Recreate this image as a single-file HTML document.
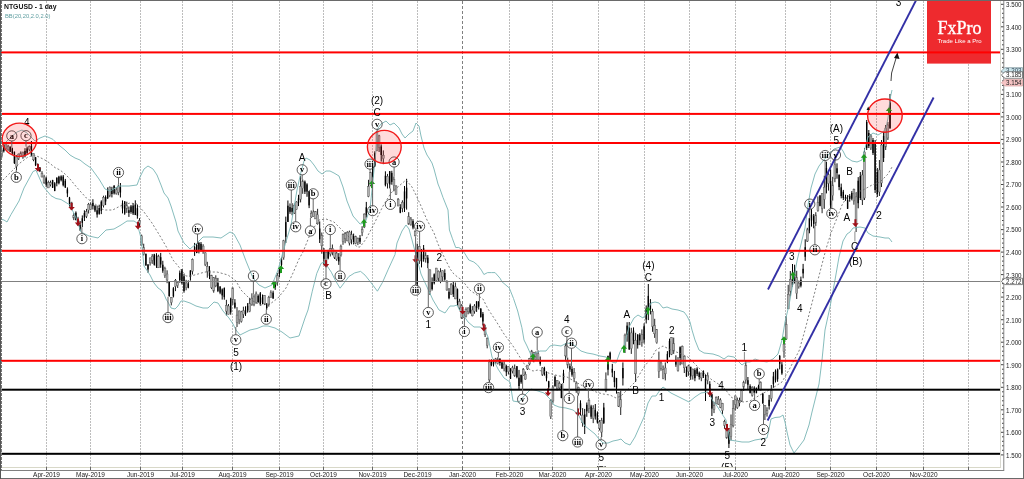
<!DOCTYPE html>
<html><head><meta charset="utf-8"><title>NTGUSD - 1 day</title><style>
html,body{margin:0;padding:0;background:#fff;}
body{width:1024px;height:479px;overflow:hidden;}
svg{display:block;}
text{font-family:"Liberation Sans",Arial,sans-serif;}
.cl{font-family:"Liberation Serif","Times New Roman",serif;font-size:8.5px;font-weight:bold;text-anchor:middle;fill:#000;}
.pl{font-size:10px;text-anchor:middle;fill:#000;}
.ax{font-size:7px;fill:#222;}
.dt{font-size:7px;fill:#222;text-anchor:middle;}
.tt{font-size:7px;font-weight:bold;fill:#111;}
.bb{font-size:5.8px;fill:#5f9ea0;}
.fx{font-family:"Liberation Serif","Times New Roman",serif;font-size:18px;fill:#fff;stroke:#fff;stroke-width:0.35px;text-anchor:middle;}
.fs{font-size:6px;fill:#fff;text-anchor:middle;}
</style></head>
<body><svg width="1024" height="479" viewBox="0 0 1024 479">
<defs><clipPath id="pc"><rect x="1" y="1" width="999" height="466"/></clipPath></defs>
<g clip-path="url(#pc)">
<rect x="0" y="0" width="1024" height="479" fill="#fff"/>
<line x1="46.5" y1="1" x2="46.5" y2="467" stroke="#bdbdbd" stroke-width="1" stroke-dasharray="2,1"/>
<line x1="90.5" y1="1" x2="90.5" y2="467" stroke="#bdbdbd" stroke-width="1" stroke-dasharray="2,1"/>
<line x1="140.5" y1="1" x2="140.5" y2="467" stroke="#bdbdbd" stroke-width="1" stroke-dasharray="2,1"/>
<line x1="182.5" y1="1" x2="182.5" y2="467" stroke="#bdbdbd" stroke-width="1" stroke-dasharray="2,1"/>
<line x1="232.5" y1="1" x2="232.5" y2="467" stroke="#bdbdbd" stroke-width="1" stroke-dasharray="2,1"/>
<line x1="279.5" y1="1" x2="279.5" y2="467" stroke="#bdbdbd" stroke-width="1" stroke-dasharray="2,1"/>
<line x1="323.5" y1="1" x2="323.5" y2="467" stroke="#bdbdbd" stroke-width="1" stroke-dasharray="2,1"/>
<line x1="372.5" y1="1" x2="372.5" y2="467" stroke="#bdbdbd" stroke-width="1" stroke-dasharray="2,1"/>
<line x1="417.5" y1="1" x2="417.5" y2="467" stroke="#bdbdbd" stroke-width="1" stroke-dasharray="2,1"/>
<line x1="462.5" y1="1" x2="462.5" y2="467" stroke="#808080" stroke-width="1" stroke-dasharray="3,2"/>
<line x1="509.5" y1="1" x2="509.5" y2="467" stroke="#bdbdbd" stroke-width="1" stroke-dasharray="2,1"/>
<line x1="552.5" y1="1" x2="552.5" y2="467" stroke="#bdbdbd" stroke-width="1" stroke-dasharray="2,1"/>
<line x1="598.5" y1="1" x2="598.5" y2="467" stroke="#bdbdbd" stroke-width="1" stroke-dasharray="2,1"/>
<line x1="644.5" y1="1" x2="644.5" y2="467" stroke="#bdbdbd" stroke-width="1" stroke-dasharray="2,1"/>
<line x1="689.5" y1="1" x2="689.5" y2="467" stroke="#bdbdbd" stroke-width="1" stroke-dasharray="2,1"/>
<line x1="735.5" y1="1" x2="735.5" y2="467" stroke="#bdbdbd" stroke-width="1" stroke-dasharray="2,1"/>
<line x1="785.5" y1="1" x2="785.5" y2="467" stroke="#bdbdbd" stroke-width="1" stroke-dasharray="2,1"/>
<line x1="830.5" y1="1" x2="830.5" y2="467" stroke="#bdbdbd" stroke-width="1" stroke-dasharray="2,1"/>
<line x1="876.5" y1="1" x2="876.5" y2="467" stroke="#bdbdbd" stroke-width="1" stroke-dasharray="2,1"/>
<line x1="923.5" y1="1" x2="923.5" y2="467" stroke="#bdbdbd" stroke-width="1" stroke-dasharray="2,1"/>
<line x1="968.5" y1="1" x2="968.5" y2="467" stroke="#bdbdbd" stroke-width="1" stroke-dasharray="2,1"/>
<rect x="927" y="0" width="64" height="63.6" fill="#ee2a2e"/>
<rect x="1.2" y="147.9" width="1" height="10" fill="#222"/>
<rect x="0.8" y="150" width="1.9" height="6.4" fill="#b0b0b0" stroke="#555" stroke-width="0.45"/>
<rect x="3.3" y="144.3" width="1" height="8.2" fill="#000"/>
<rect x="3.1" y="144.5" width="1.4" height="6.7" fill="#000"/>
<rect x="5.4" y="143.6" width="1" height="5.9" fill="#222"/>
<rect x="5" y="143.9" width="1.9" height="5.1" fill="#b0b0b0" stroke="#555" stroke-width="0.45"/>
<rect x="7.6" y="144.8" width="1" height="6" fill="#222"/>
<rect x="7.1" y="146.2" width="1.9" height="3.7" fill="#b0b0b0" stroke="#555" stroke-width="0.45"/>
<rect x="9.7" y="146.4" width="1" height="5.6" fill="#000"/>
<rect x="9.5" y="146.7" width="1.4" height="5.1" fill="#000"/>
<rect x="11.8" y="147.7" width="1" height="7.3" fill="#000"/>
<rect x="11.6" y="148.3" width="1.4" height="5.1" fill="#000"/>
<rect x="13.9" y="151.5" width="1" height="12.5" fill="#000"/>
<rect x="13.7" y="151.8" width="1.4" height="11.2" fill="#000"/>
<rect x="16" y="155.2" width="1" height="14.8" fill="#222"/>
<rect x="15.6" y="157" width="1.9" height="9.5" fill="#b0b0b0" stroke="#555" stroke-width="0.45"/>
<rect x="18.2" y="153.5" width="1" height="6.5" fill="#222"/>
<rect x="17.7" y="154.1" width="1.9" height="4.4" fill="#b0b0b0" stroke="#555" stroke-width="0.45"/>
<rect x="20.3" y="151.4" width="1" height="5.5" fill="#222"/>
<rect x="19.8" y="153" width="1.9" height="3.3" fill="#b0b0b0" stroke="#555" stroke-width="0.45"/>
<rect x="22.4" y="151.7" width="1" height="7.1" fill="#222"/>
<rect x="22" y="152.1" width="1.9" height="5.3" fill="#b0b0b0" stroke="#555" stroke-width="0.45"/>
<rect x="24.5" y="148.2" width="1" height="9.1" fill="#000"/>
<rect x="24.3" y="151" width="1.4" height="4.2" fill="#000"/>
<rect x="26.6" y="146.6" width="1" height="7.5" fill="#000"/>
<rect x="26.4" y="148.4" width="1.4" height="4.4" fill="#000"/>
<rect x="28.8" y="145.5" width="1" height="5.8" fill="#222"/>
<rect x="28.3" y="146.5" width="1.9" height="3.1" fill="#b0b0b0" stroke="#555" stroke-width="0.45"/>
<rect x="30.9" y="141" width="1" height="15.4" fill="#000"/>
<rect x="30.7" y="146.1" width="1.4" height="8.6" fill="#000"/>
<rect x="33" y="153.5" width="1" height="7.7" fill="#222"/>
<rect x="32.6" y="153.6" width="1.9" height="6.2" fill="#b0b0b0" stroke="#555" stroke-width="0.45"/>
<rect x="35.1" y="156.9" width="1" height="9.2" fill="#000"/>
<rect x="34.9" y="157.4" width="1.4" height="7.8" fill="#000"/>
<rect x="37.2" y="163.6" width="1" height="7" fill="#000"/>
<rect x="37" y="163.8" width="1.4" height="5.5" fill="#000"/>
<rect x="39.4" y="167" width="1" height="5.1" fill="#000"/>
<rect x="39.2" y="167.5" width="1.4" height="3.7" fill="#000"/>
<rect x="41.5" y="171.2" width="1" height="6.1" fill="#222"/>
<rect x="41" y="173.6" width="1.9" height="3.4" fill="#b0b0b0" stroke="#555" stroke-width="0.45"/>
<rect x="43.6" y="174.8" width="1" height="9" fill="#222"/>
<rect x="43.1" y="176.9" width="1.9" height="5.9" fill="#b0b0b0" stroke="#555" stroke-width="0.45"/>
<rect x="45.7" y="176.7" width="1" height="10.2" fill="#000"/>
<rect x="45.5" y="178.3" width="1.4" height="6.4" fill="#000"/>
<rect x="47.8" y="180.6" width="1" height="7.4" fill="#222"/>
<rect x="47.4" y="182.6" width="1.9" height="5.3" fill="#b0b0b0" stroke="#555" stroke-width="0.45"/>
<rect x="50" y="180.6" width="1" height="5.8" fill="#222"/>
<rect x="49.5" y="182.7" width="1.9" height="1.9" fill="#b0b0b0" stroke="#555" stroke-width="0.45"/>
<rect x="52.1" y="179.8" width="1" height="8.2" fill="#000"/>
<rect x="51.9" y="180" width="1.4" height="7.7" fill="#000"/>
<rect x="54.2" y="182.1" width="1" height="9.1" fill="#000"/>
<rect x="54" y="183.3" width="1.4" height="7.6" fill="#000"/>
<rect x="56.3" y="177.5" width="1" height="8.8" fill="#000"/>
<rect x="56.1" y="177.6" width="1.4" height="5.7" fill="#000"/>
<rect x="58.4" y="175.8" width="1" height="8.6" fill="#000"/>
<rect x="58.2" y="176.7" width="1.4" height="6.5" fill="#000"/>
<rect x="60.6" y="175.3" width="1" height="6.1" fill="#000"/>
<rect x="60.4" y="176.4" width="1.4" height="3.8" fill="#000"/>
<rect x="62.7" y="175" width="1" height="11.4" fill="#000"/>
<rect x="62.5" y="176.5" width="1.4" height="8.7" fill="#000"/>
<rect x="64.8" y="178.9" width="1" height="9.1" fill="#000"/>
<rect x="64.6" y="180.8" width="1.4" height="6.6" fill="#000"/>
<rect x="66.9" y="187.4" width="1" height="9.7" fill="#000"/>
<rect x="66.7" y="189.5" width="1.4" height="3.9" fill="#000"/>
<rect x="69" y="196.9" width="1" height="9.7" fill="#000"/>
<rect x="68.8" y="197.6" width="1.4" height="6" fill="#000"/>
<rect x="71.2" y="201.8" width="1" height="8.1" fill="#222"/>
<rect x="70.7" y="202.8" width="1.9" height="6.3" fill="#b0b0b0" stroke="#555" stroke-width="0.45"/>
<rect x="73.3" y="213.1" width="1" height="7" fill="#222"/>
<rect x="72.8" y="215.4" width="1.9" height="2.6" fill="#b0b0b0" stroke="#555" stroke-width="0.45"/>
<rect x="75.4" y="211.4" width="1" height="8.8" fill="#000"/>
<rect x="75.2" y="212.7" width="1.4" height="7.5" fill="#000"/>
<rect x="77.5" y="216.8" width="1" height="9.1" fill="#222"/>
<rect x="77.1" y="220.3" width="1.9" height="4" fill="#b0b0b0" stroke="#555" stroke-width="0.45"/>
<rect x="79.6" y="221" width="1" height="10" fill="#000"/>
<rect x="79.4" y="224.8" width="1.4" height="4.7" fill="#000"/>
<rect x="81.8" y="215.4" width="1" height="11.6" fill="#000"/>
<rect x="81.6" y="218.3" width="1.4" height="4.5" fill="#000"/>
<rect x="83.9" y="210.3" width="1" height="10.7" fill="#000"/>
<rect x="83.7" y="213.1" width="1.4" height="4.5" fill="#000"/>
<rect x="86" y="208.9" width="1" height="9.2" fill="#222"/>
<rect x="85.6" y="211.6" width="1.9" height="4.7" fill="#b0b0b0" stroke="#555" stroke-width="0.45"/>
<rect x="88.1" y="202.9" width="1" height="10.6" fill="#222"/>
<rect x="87.7" y="204.3" width="1.9" height="5.8" fill="#b0b0b0" stroke="#555" stroke-width="0.45"/>
<rect x="90.2" y="202.4" width="1" height="7.8" fill="#222"/>
<rect x="89.8" y="204.6" width="1.9" height="5" fill="#b0b0b0" stroke="#555" stroke-width="0.45"/>
<rect x="92.4" y="199.2" width="1" height="10.3" fill="#000"/>
<rect x="92.2" y="202.9" width="1.4" height="3.3" fill="#000"/>
<rect x="94.5" y="204.9" width="1" height="7.2" fill="#000"/>
<rect x="94.3" y="205.9" width="1.4" height="4.6" fill="#000"/>
<rect x="96.6" y="205.6" width="1" height="12" fill="#000"/>
<rect x="96.4" y="210.3" width="1.4" height="4.2" fill="#000"/>
<rect x="98.7" y="204.7" width="1" height="10" fill="#000"/>
<rect x="98.5" y="208" width="1.4" height="5.8" fill="#000"/>
<rect x="100.8" y="200.3" width="1" height="13.8" fill="#000"/>
<rect x="100.6" y="201.6" width="1.4" height="9.2" fill="#000"/>
<rect x="103" y="195.7" width="1" height="11.8" fill="#222"/>
<rect x="102.5" y="197.4" width="1.9" height="8" fill="#b0b0b0" stroke="#555" stroke-width="0.45"/>
<rect x="105.1" y="195.4" width="1" height="9.7" fill="#000"/>
<rect x="104.9" y="197" width="1.4" height="4.5" fill="#000"/>
<rect x="107.2" y="187.4" width="1" height="11.6" fill="#000"/>
<rect x="107" y="189.5" width="1.4" height="8.7" fill="#000"/>
<rect x="109.3" y="186.4" width="1" height="10.8" fill="#222"/>
<rect x="108.9" y="187.2" width="1.9" height="8" fill="#b0b0b0" stroke="#555" stroke-width="0.45"/>
<rect x="111.4" y="186.8" width="1" height="10.6" fill="#000"/>
<rect x="111.2" y="189.1" width="1.4" height="4.9" fill="#000"/>
<rect x="113.6" y="185" width="1" height="9.5" fill="#000"/>
<rect x="113.4" y="185.9" width="1.4" height="7.5" fill="#000"/>
<rect x="115.7" y="187.1" width="1" height="7.6" fill="#222"/>
<rect x="115.2" y="189.9" width="1.9" height="3.5" fill="#b0b0b0" stroke="#555" stroke-width="0.45"/>
<rect x="117.8" y="184.4" width="1" height="10.8" fill="#222"/>
<rect x="117.4" y="186.6" width="1.9" height="5.6" fill="#b0b0b0" stroke="#555" stroke-width="0.45"/>
<rect x="119.9" y="183" width="1" height="14.5" fill="#000"/>
<rect x="119.7" y="187.1" width="1.4" height="5.4" fill="#000"/>
<rect x="122" y="200.4" width="1" height="13" fill="#000"/>
<rect x="121.8" y="203.3" width="1.4" height="5.2" fill="#000"/>
<rect x="124.2" y="201.1" width="1" height="13.7" fill="#000"/>
<rect x="124" y="201.5" width="1.4" height="12" fill="#000"/>
<rect x="126.3" y="201.7" width="1" height="11.2" fill="#222"/>
<rect x="125.8" y="205.2" width="1.9" height="3.7" fill="#b0b0b0" stroke="#555" stroke-width="0.45"/>
<rect x="128.4" y="206.5" width="1" height="10.4" fill="#000"/>
<rect x="128.2" y="210.2" width="1.4" height="2.7" fill="#000"/>
<rect x="130.5" y="205" width="1" height="8.7" fill="#000"/>
<rect x="130.3" y="206.4" width="1.4" height="5.6" fill="#000"/>
<rect x="132.6" y="203.2" width="1" height="11.8" fill="#000"/>
<rect x="132.4" y="205.6" width="1.4" height="7.8" fill="#000"/>
<rect x="134.8" y="200.3" width="1" height="14.8" fill="#000"/>
<rect x="134.6" y="204.6" width="1.4" height="10.4" fill="#000"/>
<rect x="136.9" y="204.7" width="1" height="14" fill="#000"/>
<rect x="136.7" y="208.2" width="1.4" height="7.6" fill="#000"/>
<rect x="139" y="218.1" width="1" height="8.4" fill="#222"/>
<rect x="138.6" y="220.7" width="1.9" height="2.5" fill="#b0b0b0" stroke="#555" stroke-width="0.45"/>
<rect x="141.1" y="234.6" width="1" height="11" fill="#222"/>
<rect x="140.7" y="235.8" width="1.9" height="9.2" fill="#b0b0b0" stroke="#555" stroke-width="0.45"/>
<rect x="143.2" y="243.7" width="1" height="11.8" fill="#222"/>
<rect x="142.8" y="247.6" width="1.9" height="6.7" fill="#b0b0b0" stroke="#555" stroke-width="0.45"/>
<rect x="145.4" y="253.5" width="1" height="12.3" fill="#000"/>
<rect x="145.2" y="253.9" width="1.4" height="11.5" fill="#000"/>
<rect x="147.5" y="264.2" width="1" height="8.5" fill="#000"/>
<rect x="147.3" y="264.4" width="1.4" height="5.1" fill="#000"/>
<rect x="149.6" y="257.7" width="1" height="7.9" fill="#222"/>
<rect x="149.2" y="257.9" width="1.9" height="4.9" fill="#b0b0b0" stroke="#555" stroke-width="0.45"/>
<rect x="151.7" y="254.1" width="1" height="9.8" fill="#222"/>
<rect x="151.3" y="256.2" width="1.9" height="4" fill="#b0b0b0" stroke="#555" stroke-width="0.45"/>
<rect x="153.8" y="253.8" width="1" height="11.8" fill="#000"/>
<rect x="153.6" y="254.3" width="1.4" height="10.5" fill="#000"/>
<rect x="156" y="253.2" width="1" height="14.7" fill="#000"/>
<rect x="155.8" y="255" width="1.4" height="11.1" fill="#000"/>
<rect x="158.1" y="254.7" width="1" height="13.3" fill="#222"/>
<rect x="157.6" y="256.5" width="1.9" height="11.3" fill="#b0b0b0" stroke="#555" stroke-width="0.45"/>
<rect x="160.2" y="252.9" width="1" height="14.9" fill="#000"/>
<rect x="160" y="257.2" width="1.4" height="7.3" fill="#000"/>
<rect x="162.3" y="260.8" width="1" height="12" fill="#000"/>
<rect x="162.1" y="264.7" width="1.4" height="6" fill="#000"/>
<rect x="164.4" y="266.7" width="1" height="11.2" fill="#222"/>
<rect x="164" y="268.5" width="1.9" height="7.1" fill="#b0b0b0" stroke="#555" stroke-width="0.45"/>
<rect x="166.6" y="270.3" width="1" height="12.9" fill="#222"/>
<rect x="166.1" y="274" width="1.9" height="6" fill="#b0b0b0" stroke="#555" stroke-width="0.45"/>
<rect x="168.7" y="281.6" width="1" height="15.2" fill="#000"/>
<rect x="168.5" y="281.9" width="1.4" height="14.1" fill="#000"/>
<rect x="170.8" y="297.1" width="1" height="8.3" fill="#222"/>
<rect x="170.4" y="297.4" width="1.9" height="5.2" fill="#b0b0b0" stroke="#555" stroke-width="0.45"/>
<rect x="172.9" y="287.1" width="1" height="10.3" fill="#000"/>
<rect x="172.7" y="288.3" width="1.4" height="8.1" fill="#000"/>
<rect x="175" y="279" width="1" height="12.1" fill="#222"/>
<rect x="174.6" y="280.3" width="1.9" height="6.1" fill="#b0b0b0" stroke="#555" stroke-width="0.45"/>
<rect x="177.2" y="281.8" width="1" height="6.2" fill="#222"/>
<rect x="176.7" y="282.4" width="1.9" height="3.2" fill="#b0b0b0" stroke="#555" stroke-width="0.45"/>
<rect x="179.3" y="270.5" width="1" height="12.2" fill="#000"/>
<rect x="179.1" y="272.8" width="1.4" height="7.4" fill="#000"/>
<rect x="181.4" y="269.3" width="1" height="15.2" fill="#000"/>
<rect x="181.2" y="269.3" width="1.4" height="13.6" fill="#000"/>
<rect x="183.5" y="274" width="1" height="18.7" fill="#000"/>
<rect x="183.3" y="276.3" width="1.4" height="14.7" fill="#000"/>
<rect x="185.6" y="279.8" width="1" height="10.5" fill="#222"/>
<rect x="185.2" y="283" width="1.9" height="4.6" fill="#b0b0b0" stroke="#555" stroke-width="0.45"/>
<rect x="187.8" y="280.4" width="1" height="7.9" fill="#000"/>
<rect x="187.6" y="283.5" width="1.4" height="4.3" fill="#000"/>
<rect x="189.9" y="270.3" width="1" height="10.3" fill="#000"/>
<rect x="189.7" y="270.4" width="1.4" height="6.6" fill="#000"/>
<rect x="192" y="258.5" width="1" height="16" fill="#222"/>
<rect x="191.6" y="259.4" width="1.9" height="11.8" fill="#b0b0b0" stroke="#555" stroke-width="0.45"/>
<rect x="194.1" y="242.9" width="1" height="13" fill="#000"/>
<rect x="193.9" y="247.1" width="1.4" height="4.5" fill="#000"/>
<rect x="196.2" y="244" width="1" height="9.2" fill="#000"/>
<rect x="196" y="244.8" width="1.4" height="8.2" fill="#000"/>
<rect x="198.4" y="242.2" width="1" height="11.2" fill="#000"/>
<rect x="198.2" y="242.7" width="1.4" height="7" fill="#000"/>
<rect x="200.5" y="242" width="1" height="9.3" fill="#000"/>
<rect x="200.3" y="243.8" width="1.4" height="7.4" fill="#000"/>
<rect x="202.6" y="244.2" width="1" height="9.6" fill="#222"/>
<rect x="202.2" y="246.1" width="1.9" height="5.6" fill="#b0b0b0" stroke="#555" stroke-width="0.45"/>
<rect x="204.7" y="252.3" width="1" height="13.8" fill="#222"/>
<rect x="204.3" y="252.8" width="1.9" height="11.9" fill="#b0b0b0" stroke="#555" stroke-width="0.45"/>
<rect x="206.8" y="261.8" width="1" height="15.9" fill="#222"/>
<rect x="206.4" y="266.5" width="1.9" height="5" fill="#b0b0b0" stroke="#555" stroke-width="0.45"/>
<rect x="209" y="266.1" width="1" height="13" fill="#000"/>
<rect x="208.8" y="270.1" width="1.4" height="5.8" fill="#000"/>
<rect x="211.1" y="274.8" width="1" height="14.3" fill="#222"/>
<rect x="210.6" y="275.7" width="1.9" height="12" fill="#b0b0b0" stroke="#555" stroke-width="0.45"/>
<rect x="213.2" y="277.3" width="1" height="15.4" fill="#222"/>
<rect x="212.8" y="277.6" width="1.9" height="13.4" fill="#b0b0b0" stroke="#555" stroke-width="0.45"/>
<rect x="215.3" y="275.3" width="1" height="11.9" fill="#222"/>
<rect x="214.9" y="278.5" width="1.9" height="7.3" fill="#b0b0b0" stroke="#555" stroke-width="0.45"/>
<rect x="217.4" y="277.9" width="1" height="14.2" fill="#000"/>
<rect x="217.2" y="282.9" width="1.4" height="8" fill="#000"/>
<rect x="219.6" y="286.4" width="1" height="7.8" fill="#000"/>
<rect x="219.4" y="286.4" width="1.4" height="6.3" fill="#000"/>
<rect x="221.7" y="288.4" width="1" height="11.2" fill="#000"/>
<rect x="221.5" y="289.4" width="1.4" height="6" fill="#000"/>
<rect x="223.8" y="287.4" width="1" height="12.3" fill="#000"/>
<rect x="223.6" y="288.1" width="1.4" height="9" fill="#000"/>
<rect x="225.9" y="299.8" width="1" height="15.8" fill="#222"/>
<rect x="225.5" y="305.4" width="1.9" height="5.7" fill="#b0b0b0" stroke="#555" stroke-width="0.45"/>
<rect x="228" y="304" width="1" height="10.4" fill="#222"/>
<rect x="227.6" y="306" width="1.9" height="8.2" fill="#b0b0b0" stroke="#555" stroke-width="0.45"/>
<rect x="230.2" y="297.7" width="1" height="17" fill="#000"/>
<rect x="230" y="298.6" width="1.4" height="13.7" fill="#000"/>
<rect x="232.3" y="287.7" width="1" height="17.1" fill="#222"/>
<rect x="231.8" y="287.8" width="1.9" height="12" fill="#b0b0b0" stroke="#555" stroke-width="0.45"/>
<rect x="234.4" y="299.1" width="1" height="9.6" fill="#000"/>
<rect x="234.2" y="302.6" width="1.4" height="5" fill="#000"/>
<rect x="236.5" y="307.1" width="1" height="19.9" fill="#222"/>
<rect x="236.1" y="315.1" width="1.9" height="7.3" fill="#b0b0b0" stroke="#555" stroke-width="0.45"/>
<rect x="238.6" y="310.4" width="1" height="13.8" fill="#222"/>
<rect x="238.2" y="311" width="1.9" height="8.6" fill="#b0b0b0" stroke="#555" stroke-width="0.45"/>
<rect x="240.8" y="310.8" width="1" height="11.8" fill="#222"/>
<rect x="240.3" y="311.9" width="1.9" height="9.4" fill="#b0b0b0" stroke="#555" stroke-width="0.45"/>
<rect x="242.9" y="306.7" width="1" height="11.3" fill="#222"/>
<rect x="242.4" y="310.8" width="1.9" height="3.6" fill="#b0b0b0" stroke="#555" stroke-width="0.45"/>
<rect x="245" y="306.3" width="1" height="9.6" fill="#000"/>
<rect x="244.8" y="309.9" width="1.4" height="3.9" fill="#000"/>
<rect x="247.1" y="303.1" width="1" height="9.5" fill="#000"/>
<rect x="246.9" y="305.9" width="1.4" height="4.2" fill="#000"/>
<rect x="249.2" y="297.8" width="1" height="14.4" fill="#222"/>
<rect x="248.8" y="303.1" width="1.9" height="8.3" fill="#b0b0b0" stroke="#555" stroke-width="0.45"/>
<rect x="251.4" y="293.3" width="1" height="12.5" fill="#222"/>
<rect x="250.9" y="298.2" width="1.9" height="6.3" fill="#b0b0b0" stroke="#555" stroke-width="0.45"/>
<rect x="253.5" y="294.3" width="1" height="11.9" fill="#222"/>
<rect x="253" y="296.9" width="1.9" height="7.3" fill="#b0b0b0" stroke="#555" stroke-width="0.45"/>
<rect x="255.6" y="291.5" width="1" height="12.3" fill="#222"/>
<rect x="255.2" y="293.9" width="1.9" height="8.7" fill="#b0b0b0" stroke="#555" stroke-width="0.45"/>
<rect x="257.7" y="294.5" width="1" height="8.2" fill="#000"/>
<rect x="257.5" y="296" width="1.4" height="6.2" fill="#000"/>
<rect x="259.8" y="292" width="1" height="13.7" fill="#000"/>
<rect x="259.6" y="293.3" width="1.4" height="11" fill="#000"/>
<rect x="262" y="294.5" width="1" height="9.8" fill="#000"/>
<rect x="261.8" y="297.4" width="1.4" height="5.3" fill="#000"/>
<rect x="264.1" y="295.1" width="1" height="9.9" fill="#222"/>
<rect x="263.6" y="295.3" width="1.9" height="8.5" fill="#b0b0b0" stroke="#555" stroke-width="0.45"/>
<rect x="266.2" y="303" width="1" height="6.8" fill="#000"/>
<rect x="266" y="304.3" width="1.4" height="3.7" fill="#000"/>
<rect x="268.3" y="295.8" width="1" height="10.8" fill="#222"/>
<rect x="267.9" y="297.5" width="1.9" height="7.1" fill="#b0b0b0" stroke="#555" stroke-width="0.45"/>
<rect x="270.4" y="290.3" width="1" height="7.1" fill="#222"/>
<rect x="270" y="292.8" width="1.9" height="4.6" fill="#b0b0b0" stroke="#555" stroke-width="0.45"/>
<rect x="272.6" y="290.7" width="1" height="7.9" fill="#000"/>
<rect x="272.4" y="292.6" width="1.4" height="6" fill="#000"/>
<rect x="274.7" y="281.9" width="1" height="8" fill="#000"/>
<rect x="274.5" y="284.5" width="1.4" height="2.6" fill="#000"/>
<rect x="276.8" y="272.9" width="1" height="12.8" fill="#222"/>
<rect x="276.4" y="275.6" width="1.9" height="6.6" fill="#b0b0b0" stroke="#555" stroke-width="0.45"/>
<rect x="278.9" y="267.3" width="1" height="9.8" fill="#000"/>
<rect x="278.7" y="269.8" width="1.4" height="4.3" fill="#000"/>
<rect x="281" y="257.1" width="1" height="12.2" fill="#000"/>
<rect x="280.8" y="258.3" width="1.4" height="6.6" fill="#000"/>
<rect x="283.2" y="239.8" width="1" height="19.9" fill="#222"/>
<rect x="282.7" y="240.8" width="1.9" height="16.9" fill="#b0b0b0" stroke="#555" stroke-width="0.45"/>
<rect x="285.3" y="216.6" width="1" height="26.4" fill="#000"/>
<rect x="285.1" y="222.1" width="1.4" height="14.7" fill="#000"/>
<rect x="287.4" y="200.5" width="1" height="21.5" fill="#000"/>
<rect x="287.2" y="205.7" width="1.4" height="16.2" fill="#000"/>
<rect x="289.5" y="203.4" width="1" height="10.4" fill="#000"/>
<rect x="289.3" y="207.1" width="1.4" height="4.7" fill="#000"/>
<rect x="291.6" y="203.2" width="1" height="12" fill="#000"/>
<rect x="291.4" y="207.9" width="1.4" height="4" fill="#000"/>
<rect x="293.8" y="203.5" width="1" height="10.5" fill="#222"/>
<rect x="293.3" y="205.3" width="1.9" height="7.7" fill="#b0b0b0" stroke="#555" stroke-width="0.45"/>
<rect x="295.9" y="201.2" width="1" height="8.3" fill="#222"/>
<rect x="295.4" y="202" width="1.9" height="7.5" fill="#b0b0b0" stroke="#555" stroke-width="0.45"/>
<rect x="298" y="194.8" width="1" height="11.3" fill="#000"/>
<rect x="297.8" y="198.4" width="1.4" height="4.3" fill="#000"/>
<rect x="300.1" y="176" width="1" height="26.4" fill="#222"/>
<rect x="299.7" y="186.3" width="1.9" height="12.9" fill="#b0b0b0" stroke="#555" stroke-width="0.45"/>
<rect x="302.2" y="179.4" width="1" height="14.4" fill="#222"/>
<rect x="301.8" y="181.1" width="1.9" height="7.2" fill="#b0b0b0" stroke="#555" stroke-width="0.45"/>
<rect x="304.4" y="180.5" width="1" height="13.5" fill="#000"/>
<rect x="304.2" y="181.7" width="1.4" height="10" fill="#000"/>
<rect x="306.5" y="183.2" width="1" height="13.6" fill="#000"/>
<rect x="306.3" y="184.4" width="1.4" height="7.2" fill="#000"/>
<rect x="308.6" y="191" width="1" height="17.1" fill="#000"/>
<rect x="308.4" y="191.4" width="1.4" height="14" fill="#000"/>
<rect x="310.7" y="210.5" width="1" height="7.5" fill="#222"/>
<rect x="310.3" y="213.3" width="1.9" height="3.7" fill="#b0b0b0" stroke="#555" stroke-width="0.45"/>
<rect x="312.8" y="210.1" width="1" height="6.6" fill="#222"/>
<rect x="312.4" y="212" width="1.9" height="4.5" fill="#b0b0b0" stroke="#555" stroke-width="0.45"/>
<rect x="315" y="211.1" width="1" height="7.9" fill="#222"/>
<rect x="314.5" y="211.6" width="1.9" height="7.3" fill="#b0b0b0" stroke="#555" stroke-width="0.45"/>
<rect x="317.1" y="208.8" width="1" height="15.8" fill="#222"/>
<rect x="316.6" y="214.8" width="1.9" height="9" fill="#b0b0b0" stroke="#555" stroke-width="0.45"/>
<rect x="319.2" y="221.4" width="1" height="21.6" fill="#000"/>
<rect x="319" y="228.5" width="1.4" height="10.8" fill="#000"/>
<rect x="321.3" y="232.5" width="1" height="21.2" fill="#222"/>
<rect x="320.9" y="235.6" width="1.9" height="10.2" fill="#b0b0b0" stroke="#555" stroke-width="0.45"/>
<rect x="323.4" y="248" width="1" height="16.3" fill="#000"/>
<rect x="323.2" y="250.6" width="1.4" height="8.3" fill="#000"/>
<rect x="325.6" y="252.1" width="1" height="14.2" fill="#222"/>
<rect x="325.1" y="252.3" width="1.9" height="13.6" fill="#b0b0b0" stroke="#555" stroke-width="0.45"/>
<rect x="327.7" y="249.8" width="1" height="9.5" fill="#000"/>
<rect x="327.5" y="251.1" width="1.4" height="7.2" fill="#000"/>
<rect x="329.8" y="247.8" width="1" height="8.7" fill="#222"/>
<rect x="329.4" y="248.7" width="1.9" height="5.3" fill="#b0b0b0" stroke="#555" stroke-width="0.45"/>
<rect x="331.9" y="244.5" width="1" height="10.8" fill="#222"/>
<rect x="331.5" y="248.5" width="1.9" height="4.1" fill="#b0b0b0" stroke="#555" stroke-width="0.45"/>
<rect x="334" y="249.9" width="1" height="9.1" fill="#222"/>
<rect x="333.6" y="250.7" width="1.9" height="6.5" fill="#b0b0b0" stroke="#555" stroke-width="0.45"/>
<rect x="336.2" y="251.6" width="1" height="9.3" fill="#222"/>
<rect x="335.7" y="253.2" width="1.9" height="5.9" fill="#b0b0b0" stroke="#555" stroke-width="0.45"/>
<rect x="338.3" y="253.1" width="1" height="11.8" fill="#000"/>
<rect x="338.1" y="256.9" width="1.4" height="4.5" fill="#000"/>
<rect x="340.4" y="244.6" width="1" height="12.1" fill="#222"/>
<rect x="340" y="246.2" width="1.9" height="8.8" fill="#b0b0b0" stroke="#555" stroke-width="0.45"/>
<rect x="342.5" y="233.5" width="1" height="11.3" fill="#222"/>
<rect x="342.1" y="234.4" width="1.9" height="7" fill="#b0b0b0" stroke="#555" stroke-width="0.45"/>
<rect x="344.6" y="232" width="1" height="11.2" fill="#222"/>
<rect x="344.2" y="233.5" width="1.9" height="5.3" fill="#b0b0b0" stroke="#555" stroke-width="0.45"/>
<rect x="346.8" y="231.2" width="1" height="10" fill="#222"/>
<rect x="346.3" y="232.3" width="1.9" height="8.6" fill="#b0b0b0" stroke="#555" stroke-width="0.45"/>
<rect x="348.9" y="230.6" width="1" height="14.9" fill="#222"/>
<rect x="348.4" y="232" width="1.9" height="11" fill="#b0b0b0" stroke="#555" stroke-width="0.45"/>
<rect x="351" y="230.7" width="1" height="13.6" fill="#222"/>
<rect x="350.6" y="234.7" width="1.9" height="4.9" fill="#b0b0b0" stroke="#555" stroke-width="0.45"/>
<rect x="353.1" y="233.6" width="1" height="10.8" fill="#000"/>
<rect x="352.9" y="236" width="1.4" height="6.8" fill="#000"/>
<rect x="355.2" y="235.7" width="1" height="8.6" fill="#222"/>
<rect x="354.8" y="236.5" width="1.9" height="6.9" fill="#b0b0b0" stroke="#555" stroke-width="0.45"/>
<rect x="357.4" y="237.5" width="1" height="7.6" fill="#222"/>
<rect x="356.9" y="238.7" width="1.9" height="3.4" fill="#b0b0b0" stroke="#555" stroke-width="0.45"/>
<rect x="359.5" y="235.1" width="1" height="8.9" fill="#000"/>
<rect x="359.3" y="238" width="1.4" height="3.7" fill="#000"/>
<rect x="361.6" y="226.2" width="1" height="9.9" fill="#222"/>
<rect x="361.2" y="229.6" width="1.9" height="3" fill="#b0b0b0" stroke="#555" stroke-width="0.45"/>
<rect x="363.7" y="213.4" width="1" height="14.7" fill="#222"/>
<rect x="363.3" y="214.1" width="1.9" height="12.9" fill="#b0b0b0" stroke="#555" stroke-width="0.45"/>
<rect x="365.8" y="201.9" width="1" height="15.7" fill="#000"/>
<rect x="365.6" y="207.3" width="1.4" height="7.4" fill="#000"/>
<rect x="368" y="179.8" width="1" height="17.4" fill="#222"/>
<rect x="367.5" y="186.4" width="1.9" height="10.1" fill="#b0b0b0" stroke="#555" stroke-width="0.45"/>
<rect x="370.1" y="171.8" width="1" height="14.5" fill="#222"/>
<rect x="369.6" y="172.6" width="1.9" height="12.5" fill="#b0b0b0" stroke="#555" stroke-width="0.45"/>
<rect x="372.2" y="162.7" width="1" height="15.2" fill="#000"/>
<rect x="372" y="166.7" width="1.4" height="10" fill="#000"/>
<rect x="374.3" y="151.3" width="1" height="15.7" fill="#000"/>
<rect x="374.1" y="153.2" width="1.4" height="12.4" fill="#000"/>
<rect x="376.4" y="131" width="1" height="20.2" fill="#222"/>
<rect x="376" y="131.5" width="1.9" height="18.9" fill="#b0b0b0" stroke="#555" stroke-width="0.45"/>
<rect x="378.6" y="134.8" width="1" height="17.2" fill="#222"/>
<rect x="378.1" y="135.9" width="1.9" height="11.3" fill="#b0b0b0" stroke="#555" stroke-width="0.45"/>
<rect x="380.7" y="144.4" width="1" height="17.2" fill="#000"/>
<rect x="380.5" y="146.5" width="1.4" height="8.5" fill="#000"/>
<rect x="382.8" y="150.4" width="1" height="13.8" fill="#222"/>
<rect x="382.4" y="155.2" width="1.9" height="3.5" fill="#b0b0b0" stroke="#555" stroke-width="0.45"/>
<rect x="384.9" y="171.3" width="1" height="15.1" fill="#000"/>
<rect x="384.7" y="175.7" width="1.4" height="9.5" fill="#000"/>
<rect x="387" y="173.9" width="1" height="14.6" fill="#222"/>
<rect x="386.6" y="176.3" width="1.9" height="7.1" fill="#b0b0b0" stroke="#555" stroke-width="0.45"/>
<rect x="389.2" y="171.1" width="1" height="17.3" fill="#000"/>
<rect x="389" y="171.2" width="1.4" height="13.3" fill="#000"/>
<rect x="391.3" y="170.8" width="1" height="13.9" fill="#000"/>
<rect x="391.1" y="172.9" width="1.4" height="9" fill="#000"/>
<rect x="393.4" y="176.5" width="1" height="14.8" fill="#222"/>
<rect x="393" y="179.5" width="1.9" height="6.2" fill="#b0b0b0" stroke="#555" stroke-width="0.45"/>
<rect x="395.5" y="185.2" width="1" height="9.5" fill="#222"/>
<rect x="395.1" y="186" width="1.9" height="8.3" fill="#b0b0b0" stroke="#555" stroke-width="0.45"/>
<rect x="397.6" y="198" width="1" height="8.1" fill="#222"/>
<rect x="397.2" y="199.6" width="1.9" height="6.4" fill="#b0b0b0" stroke="#555" stroke-width="0.45"/>
<rect x="399.8" y="204.2" width="1" height="9" fill="#000"/>
<rect x="399.6" y="207.2" width="1.4" height="5.5" fill="#000"/>
<rect x="401.9" y="200.3" width="1" height="11.9" fill="#222"/>
<rect x="401.4" y="202.3" width="1.9" height="6" fill="#b0b0b0" stroke="#555" stroke-width="0.45"/>
<rect x="404" y="186" width="1" height="26" fill="#000"/>
<rect x="403.8" y="191.4" width="1.4" height="16.7" fill="#000"/>
<rect x="406.1" y="178.8" width="1" height="30.8" fill="#000"/>
<rect x="405.9" y="187.7" width="1.4" height="10.8" fill="#000"/>
<rect x="408.2" y="212.2" width="1" height="12.6" fill="#222"/>
<rect x="407.8" y="216.4" width="1.9" height="7.8" fill="#b0b0b0" stroke="#555" stroke-width="0.45"/>
<rect x="410.4" y="217" width="1" height="8.7" fill="#222"/>
<rect x="409.9" y="219.1" width="1.9" height="5.5" fill="#b0b0b0" stroke="#555" stroke-width="0.45"/>
<rect x="412.5" y="219.2" width="1" height="10.1" fill="#000"/>
<rect x="412.3" y="221.1" width="1.4" height="6.5" fill="#000"/>
<rect x="414.6" y="230.2" width="1" height="6.2" fill="#222"/>
<rect x="414.2" y="231.4" width="1.9" height="4.4" fill="#b0b0b0" stroke="#555" stroke-width="0.45"/>
<rect x="416.7" y="243.6" width="1" height="42.4" fill="#000"/>
<rect x="416.5" y="251.7" width="1.4" height="32.5" fill="#000"/>
<rect x="418.8" y="246" width="1" height="17.9" fill="#222"/>
<rect x="418.4" y="246.7" width="1.9" height="14.1" fill="#b0b0b0" stroke="#555" stroke-width="0.45"/>
<rect x="421" y="249.1" width="1" height="18.3" fill="#000"/>
<rect x="420.8" y="254.4" width="1.4" height="7.2" fill="#000"/>
<rect x="423.1" y="245" width="1" height="16.7" fill="#000"/>
<rect x="422.9" y="248.3" width="1.4" height="10.8" fill="#000"/>
<rect x="425.2" y="252.2" width="1" height="10.4" fill="#222"/>
<rect x="424.8" y="255.2" width="1.9" height="4" fill="#b0b0b0" stroke="#555" stroke-width="0.45"/>
<rect x="427.3" y="255" width="1" height="13.2" fill="#000"/>
<rect x="427.1" y="257.6" width="1.4" height="5.6" fill="#000"/>
<rect x="429.4" y="269.3" width="1" height="25.7" fill="#222"/>
<rect x="429" y="269.9" width="1.9" height="21.4" fill="#b0b0b0" stroke="#555" stroke-width="0.45"/>
<rect x="431.6" y="277.4" width="1" height="13.1" fill="#000"/>
<rect x="431.4" y="282.1" width="1.4" height="7" fill="#000"/>
<rect x="433.7" y="273.4" width="1" height="11" fill="#000"/>
<rect x="433.5" y="274.3" width="1.4" height="8.9" fill="#000"/>
<rect x="435.8" y="267.9" width="1" height="13.6" fill="#222"/>
<rect x="435.4" y="268.1" width="1.9" height="12.4" fill="#b0b0b0" stroke="#555" stroke-width="0.45"/>
<rect x="437.9" y="270.5" width="1" height="11" fill="#222"/>
<rect x="437.5" y="271.2" width="1.9" height="6.8" fill="#b0b0b0" stroke="#555" stroke-width="0.45"/>
<rect x="440" y="268.2" width="1" height="15" fill="#222"/>
<rect x="439.6" y="272" width="1.9" height="9" fill="#b0b0b0" stroke="#555" stroke-width="0.45"/>
<rect x="442.2" y="270.3" width="1" height="10.8" fill="#222"/>
<rect x="441.7" y="270.8" width="1.9" height="6" fill="#b0b0b0" stroke="#555" stroke-width="0.45"/>
<rect x="444.3" y="269.3" width="1" height="11.4" fill="#000"/>
<rect x="444.1" y="273" width="1.4" height="6.5" fill="#000"/>
<rect x="446.4" y="280.2" width="1" height="10.5" fill="#222"/>
<rect x="446" y="282.1" width="1.9" height="7.9" fill="#b0b0b0" stroke="#555" stroke-width="0.45"/>
<rect x="448.5" y="288.1" width="1" height="11.2" fill="#000"/>
<rect x="448.3" y="291.8" width="1.4" height="6.4" fill="#000"/>
<rect x="450.6" y="283" width="1" height="11.5" fill="#222"/>
<rect x="450.2" y="284.4" width="1.9" height="10" fill="#b0b0b0" stroke="#555" stroke-width="0.45"/>
<rect x="452.8" y="281.1" width="1" height="15.9" fill="#000"/>
<rect x="452.6" y="285" width="1.4" height="9.3" fill="#000"/>
<rect x="454.9" y="282.5" width="1" height="16.6" fill="#222"/>
<rect x="454.4" y="286.8" width="1.9" height="12.1" fill="#b0b0b0" stroke="#555" stroke-width="0.45"/>
<rect x="457" y="288.5" width="1" height="17.2" fill="#000"/>
<rect x="456.8" y="289.3" width="1.4" height="14" fill="#000"/>
<rect x="459.1" y="298.8" width="1" height="11.3" fill="#222"/>
<rect x="458.7" y="301.6" width="1.9" height="6.3" fill="#b0b0b0" stroke="#555" stroke-width="0.45"/>
<rect x="461.2" y="304.1" width="1" height="14.9" fill="#222"/>
<rect x="460.8" y="305.5" width="1.9" height="12.6" fill="#b0b0b0" stroke="#555" stroke-width="0.45"/>
<rect x="463.4" y="310.8" width="1" height="7.1" fill="#222"/>
<rect x="462.9" y="311.9" width="1.9" height="5.2" fill="#b0b0b0" stroke="#555" stroke-width="0.45"/>
<rect x="465.5" y="307.4" width="1" height="10" fill="#222"/>
<rect x="465" y="309.7" width="1.9" height="6.4" fill="#b0b0b0" stroke="#555" stroke-width="0.45"/>
<rect x="467.6" y="307.3" width="1" height="7" fill="#222"/>
<rect x="467.2" y="308" width="1.9" height="3.8" fill="#b0b0b0" stroke="#555" stroke-width="0.45"/>
<rect x="469.7" y="303.6" width="1" height="10.2" fill="#000"/>
<rect x="469.5" y="305.2" width="1.4" height="7.6" fill="#000"/>
<rect x="471.8" y="306.1" width="1" height="10.3" fill="#222"/>
<rect x="471.4" y="310" width="1.9" height="5.8" fill="#b0b0b0" stroke="#555" stroke-width="0.45"/>
<rect x="474" y="304.1" width="1" height="9.6" fill="#222"/>
<rect x="473.5" y="306" width="1.9" height="5.2" fill="#b0b0b0" stroke="#555" stroke-width="0.45"/>
<rect x="476.1" y="301.2" width="1" height="10.7" fill="#000"/>
<rect x="475.9" y="301.4" width="1.4" height="6.7" fill="#000"/>
<rect x="478.2" y="301.3" width="1" height="8.2" fill="#000"/>
<rect x="478" y="301.3" width="1.4" height="5.4" fill="#000"/>
<rect x="480.3" y="308" width="1" height="9.6" fill="#000"/>
<rect x="480.1" y="308.8" width="1.4" height="8.3" fill="#000"/>
<rect x="482.4" y="312" width="1" height="13.5" fill="#000"/>
<rect x="482.2" y="313.8" width="1.4" height="7.7" fill="#000"/>
<rect x="484.6" y="324.7" width="1" height="12.3" fill="#222"/>
<rect x="484.1" y="327.4" width="1.9" height="7.4" fill="#b0b0b0" stroke="#555" stroke-width="0.45"/>
<rect x="486.7" y="337.4" width="1" height="10.9" fill="#222"/>
<rect x="486.2" y="338.5" width="1.9" height="7" fill="#b0b0b0" stroke="#555" stroke-width="0.45"/>
<rect x="488.8" y="359.6" width="1" height="22.4" fill="#222"/>
<rect x="488.4" y="362" width="1.9" height="17.9" fill="#b0b0b0" stroke="#555" stroke-width="0.45"/>
<rect x="490.9" y="359.3" width="1" height="6.9" fill="#000"/>
<rect x="490.7" y="361.4" width="1.4" height="3.9" fill="#000"/>
<rect x="493" y="359" width="1" height="7.5" fill="#000"/>
<rect x="492.8" y="360.9" width="1.4" height="3.5" fill="#000"/>
<rect x="495.2" y="357.9" width="1" height="5.9" fill="#222"/>
<rect x="494.7" y="359" width="1.9" height="2.8" fill="#b0b0b0" stroke="#555" stroke-width="0.45"/>
<rect x="497.3" y="357.3" width="1" height="7.1" fill="#222"/>
<rect x="496.8" y="358.9" width="1.9" height="4.6" fill="#b0b0b0" stroke="#555" stroke-width="0.45"/>
<rect x="499.4" y="358.4" width="1" height="7.2" fill="#000"/>
<rect x="499.2" y="358.6" width="1.4" height="4.4" fill="#000"/>
<rect x="501.5" y="361.4" width="1" height="7.4" fill="#000"/>
<rect x="501.3" y="362.5" width="1.4" height="6" fill="#000"/>
<rect x="503.6" y="361.4" width="1" height="9.9" fill="#222"/>
<rect x="503.2" y="364.1" width="1.9" height="4.6" fill="#b0b0b0" stroke="#555" stroke-width="0.45"/>
<rect x="505.8" y="364.7" width="1" height="11.4" fill="#000"/>
<rect x="505.6" y="366.3" width="1.4" height="6" fill="#000"/>
<rect x="507.9" y="366.4" width="1" height="8.1" fill="#222"/>
<rect x="507.4" y="366.6" width="1.9" height="5.1" fill="#b0b0b0" stroke="#555" stroke-width="0.45"/>
<rect x="510" y="368.2" width="1" height="10.8" fill="#000"/>
<rect x="509.8" y="368.7" width="1.4" height="10.2" fill="#000"/>
<rect x="512.1" y="365.8" width="1" height="7.6" fill="#222"/>
<rect x="511.7" y="367.8" width="1.9" height="3.2" fill="#b0b0b0" stroke="#555" stroke-width="0.45"/>
<rect x="514.2" y="364.5" width="1" height="12.4" fill="#222"/>
<rect x="513.8" y="368.2" width="1.9" height="7.6" fill="#b0b0b0" stroke="#555" stroke-width="0.45"/>
<rect x="516.4" y="366.1" width="1" height="12.2" fill="#000"/>
<rect x="516.2" y="366.2" width="1.4" height="10.9" fill="#000"/>
<rect x="518.5" y="369.9" width="1" height="20.1" fill="#000"/>
<rect x="518.3" y="377.7" width="1.4" height="8.3" fill="#000"/>
<rect x="520.6" y="374.7" width="1" height="9.1" fill="#000"/>
<rect x="520.4" y="374.8" width="1.4" height="7.5" fill="#000"/>
<rect x="522.7" y="368" width="1" height="8" fill="#222"/>
<rect x="522.3" y="369.7" width="1.9" height="5.6" fill="#b0b0b0" stroke="#555" stroke-width="0.45"/>
<rect x="524.8" y="371.5" width="1" height="8.2" fill="#222"/>
<rect x="524.4" y="374.2" width="1.9" height="4.9" fill="#b0b0b0" stroke="#555" stroke-width="0.45"/>
<rect x="527" y="365" width="1" height="4.9" fill="#222"/>
<rect x="526.5" y="365.1" width="1.9" height="3.9" fill="#b0b0b0" stroke="#555" stroke-width="0.45"/>
<rect x="529.1" y="357.9" width="1" height="7.4" fill="#222"/>
<rect x="528.6" y="358.5" width="1.9" height="5.4" fill="#b0b0b0" stroke="#555" stroke-width="0.45"/>
<rect x="531.2" y="349.9" width="1" height="9.9" fill="#222"/>
<rect x="530.8" y="351" width="1.9" height="7.9" fill="#b0b0b0" stroke="#555" stroke-width="0.45"/>
<rect x="533.3" y="351.9" width="1" height="10.4" fill="#222"/>
<rect x="532.9" y="352.4" width="1.9" height="7.3" fill="#b0b0b0" stroke="#555" stroke-width="0.45"/>
<rect x="535.4" y="351.4" width="1" height="9.4" fill="#222"/>
<rect x="535" y="353.8" width="1.9" height="5.7" fill="#b0b0b0" stroke="#555" stroke-width="0.45"/>
<rect x="537.6" y="350.4" width="1" height="9.7" fill="#222"/>
<rect x="537.1" y="353.8" width="1.9" height="5.9" fill="#b0b0b0" stroke="#555" stroke-width="0.45"/>
<rect x="539.7" y="356.5" width="1" height="9.2" fill="#000"/>
<rect x="539.5" y="359.8" width="1.4" height="4" fill="#000"/>
<rect x="541.8" y="367.1" width="1" height="8.9" fill="#222"/>
<rect x="541.4" y="367.9" width="1.9" height="6.5" fill="#b0b0b0" stroke="#555" stroke-width="0.45"/>
<rect x="543.9" y="366.7" width="1" height="9" fill="#000"/>
<rect x="543.7" y="367.9" width="1.4" height="6.5" fill="#000"/>
<rect x="546" y="371.3" width="1" height="10" fill="#000"/>
<rect x="545.8" y="373.9" width="1.4" height="4.4" fill="#000"/>
<rect x="548.2" y="380.8" width="1" height="8.1" fill="#000"/>
<rect x="548" y="381.2" width="1.4" height="6.2" fill="#000"/>
<rect x="550.3" y="399" width="1" height="20" fill="#222"/>
<rect x="549.8" y="400.5" width="1.9" height="16.1" fill="#b0b0b0" stroke="#555" stroke-width="0.45"/>
<rect x="552.4" y="385.3" width="1" height="18" fill="#222"/>
<rect x="552" y="387.1" width="1.9" height="13.9" fill="#b0b0b0" stroke="#555" stroke-width="0.45"/>
<rect x="554.5" y="375.4" width="1" height="11.5" fill="#000"/>
<rect x="554.3" y="376.9" width="1.4" height="9.1" fill="#000"/>
<rect x="556.6" y="380.1" width="1" height="10.3" fill="#222"/>
<rect x="556.2" y="380.5" width="1.9" height="8.3" fill="#b0b0b0" stroke="#555" stroke-width="0.45"/>
<rect x="558.8" y="381.4" width="1" height="7.8" fill="#222"/>
<rect x="558.3" y="383.7" width="1.9" height="4.2" fill="#b0b0b0" stroke="#555" stroke-width="0.45"/>
<rect x="560.9" y="383.9" width="1" height="14.3" fill="#000"/>
<rect x="560.7" y="386.1" width="1.4" height="11.9" fill="#000"/>
<rect x="563" y="369.8" width="1" height="13.2" fill="#000"/>
<rect x="562.8" y="373.4" width="1.4" height="6.9" fill="#000"/>
<rect x="565.1" y="343" width="1" height="18.3" fill="#222"/>
<rect x="564.7" y="346" width="1.9" height="9.9" fill="#b0b0b0" stroke="#555" stroke-width="0.45"/>
<rect x="567.2" y="357.6" width="1" height="10.7" fill="#222"/>
<rect x="566.8" y="360.1" width="1.9" height="5" fill="#b0b0b0" stroke="#555" stroke-width="0.45"/>
<rect x="569.4" y="363.5" width="1" height="8.4" fill="#000"/>
<rect x="569.2" y="366.1" width="1.4" height="3.4" fill="#000"/>
<rect x="571.5" y="366.3" width="1" height="10.4" fill="#000"/>
<rect x="571.3" y="368.9" width="1.4" height="5.8" fill="#000"/>
<rect x="573.6" y="368" width="1" height="14.2" fill="#222"/>
<rect x="573.2" y="372.5" width="1.9" height="5.7" fill="#b0b0b0" stroke="#555" stroke-width="0.45"/>
<rect x="575.7" y="381.3" width="1" height="11.5" fill="#222"/>
<rect x="575.3" y="383.2" width="1.9" height="7.4" fill="#b0b0b0" stroke="#555" stroke-width="0.45"/>
<rect x="577.8" y="386.7" width="1" height="8.9" fill="#222"/>
<rect x="577.4" y="387.4" width="1.9" height="5.9" fill="#b0b0b0" stroke="#555" stroke-width="0.45"/>
<rect x="580" y="400.3" width="1" height="15.2" fill="#000"/>
<rect x="579.8" y="403.3" width="1.4" height="6.3" fill="#000"/>
<rect x="582.1" y="408.1" width="1" height="18.6" fill="#222"/>
<rect x="581.6" y="415.1" width="1.9" height="7.7" fill="#b0b0b0" stroke="#555" stroke-width="0.45"/>
<rect x="584.2" y="408.9" width="1" height="25.1" fill="#000"/>
<rect x="584" y="414.4" width="1.4" height="12.5" fill="#000"/>
<rect x="586.3" y="402.5" width="1" height="14.3" fill="#000"/>
<rect x="586.1" y="404.8" width="1.4" height="6.5" fill="#000"/>
<rect x="588.4" y="398.3" width="1" height="14.8" fill="#222"/>
<rect x="588" y="400.6" width="1.9" height="7.9" fill="#b0b0b0" stroke="#555" stroke-width="0.45"/>
<rect x="590.6" y="404.8" width="1" height="14.1" fill="#000"/>
<rect x="590.4" y="406.4" width="1.4" height="10.3" fill="#000"/>
<rect x="592.7" y="405.2" width="1" height="17.9" fill="#222"/>
<rect x="592.2" y="408.3" width="1.9" height="9.9" fill="#b0b0b0" stroke="#555" stroke-width="0.45"/>
<rect x="594.8" y="404" width="1" height="15.6" fill="#000"/>
<rect x="594.6" y="409.9" width="1.4" height="6.5" fill="#000"/>
<rect x="596.9" y="411.4" width="1" height="12.2" fill="#000"/>
<rect x="596.7" y="413.3" width="1.4" height="9.2" fill="#000"/>
<rect x="599" y="420" width="1" height="10.5" fill="#222"/>
<rect x="598.6" y="422" width="1.9" height="6.2" fill="#b0b0b0" stroke="#555" stroke-width="0.45"/>
<rect x="601.2" y="417.8" width="1" height="19.2" fill="#222"/>
<rect x="600.7" y="420.5" width="1.9" height="11.6" fill="#b0b0b0" stroke="#555" stroke-width="0.45"/>
<rect x="603.3" y="402.9" width="1" height="21.1" fill="#000"/>
<rect x="603.1" y="407.5" width="1.4" height="15.4" fill="#000"/>
<rect x="605.4" y="372.4" width="1" height="19.8" fill="#222"/>
<rect x="605" y="379.2" width="1.9" height="11" fill="#b0b0b0" stroke="#555" stroke-width="0.45"/>
<rect x="607.5" y="355.8" width="1" height="19.6" fill="#000"/>
<rect x="607.3" y="355.8" width="1.4" height="13.9" fill="#000"/>
<rect x="609.6" y="351.6" width="1" height="8.8" fill="#000"/>
<rect x="609.4" y="352.7" width="1.4" height="6.1" fill="#000"/>
<rect x="611.8" y="363.9" width="1" height="13.3" fill="#000"/>
<rect x="611.6" y="368.8" width="1.4" height="3.8" fill="#000"/>
<rect x="613.9" y="370.9" width="1" height="16.4" fill="#000"/>
<rect x="613.7" y="376.8" width="1.4" height="5.3" fill="#000"/>
<rect x="616" y="377.9" width="1" height="15.7" fill="#000"/>
<rect x="615.8" y="378" width="1.4" height="9.6" fill="#000"/>
<rect x="618.1" y="392.1" width="1" height="14.9" fill="#222"/>
<rect x="617.7" y="392.7" width="1.9" height="13.4" fill="#b0b0b0" stroke="#555" stroke-width="0.45"/>
<rect x="620.2" y="390.8" width="1" height="24.2" fill="#222"/>
<rect x="619.8" y="399.5" width="1.9" height="7.8" fill="#b0b0b0" stroke="#555" stroke-width="0.45"/>
<rect x="622.4" y="362.4" width="1" height="23.1" fill="#000"/>
<rect x="622.2" y="368" width="1.4" height="10.3" fill="#000"/>
<rect x="624.5" y="333.6" width="1" height="19.4" fill="#222"/>
<rect x="624" y="335.1" width="1.9" height="12.5" fill="#b0b0b0" stroke="#555" stroke-width="0.45"/>
<rect x="626.6" y="322.2" width="1" height="19.5" fill="#000"/>
<rect x="626.4" y="325.6" width="1.4" height="9.2" fill="#000"/>
<rect x="628.7" y="322" width="1" height="28" fill="#000"/>
<rect x="628.5" y="327.5" width="1.4" height="21.8" fill="#000"/>
<rect x="630.8" y="327.8" width="1" height="26.1" fill="#222"/>
<rect x="630.4" y="332.9" width="1.9" height="15.8" fill="#b0b0b0" stroke="#555" stroke-width="0.45"/>
<rect x="633" y="327.4" width="1" height="16.9" fill="#000"/>
<rect x="632.8" y="330.5" width="1.4" height="9.9" fill="#000"/>
<rect x="635.1" y="332.8" width="1" height="49.2" fill="#222"/>
<rect x="634.6" y="340.2" width="1.9" height="33.6" fill="#b0b0b0" stroke="#555" stroke-width="0.45"/>
<rect x="637.2" y="334.3" width="1" height="14.3" fill="#000"/>
<rect x="637" y="334.5" width="1.4" height="10.6" fill="#000"/>
<rect x="639.3" y="333.2" width="1" height="11.9" fill="#000"/>
<rect x="639.1" y="334.8" width="1.4" height="5.7" fill="#000"/>
<rect x="641.4" y="329.4" width="1" height="17.3" fill="#222"/>
<rect x="641" y="334.4" width="1.9" height="8" fill="#b0b0b0" stroke="#555" stroke-width="0.45"/>
<rect x="643.6" y="323.3" width="1" height="20.2" fill="#000"/>
<rect x="643.4" y="326.3" width="1.4" height="13.4" fill="#000"/>
<rect x="645.7" y="305.4" width="1" height="18.1" fill="#000"/>
<rect x="645.5" y="308.5" width="1.4" height="11" fill="#000"/>
<rect x="647.8" y="284" width="1" height="36.1" fill="#000"/>
<rect x="647.6" y="295.9" width="1.4" height="18.3" fill="#000"/>
<rect x="649.9" y="299.1" width="1" height="15.3" fill="#000"/>
<rect x="649.7" y="303.1" width="1.4" height="6.4" fill="#000"/>
<rect x="652" y="308.8" width="1" height="23" fill="#222"/>
<rect x="651.6" y="311.6" width="1.9" height="14.8" fill="#b0b0b0" stroke="#555" stroke-width="0.45"/>
<rect x="654.2" y="318.8" width="1" height="19.1" fill="#222"/>
<rect x="653.7" y="325.6" width="1.9" height="8.2" fill="#b0b0b0" stroke="#555" stroke-width="0.45"/>
<rect x="656.3" y="329.4" width="1" height="14.3" fill="#222"/>
<rect x="655.8" y="329.4" width="1.9" height="13.2" fill="#b0b0b0" stroke="#555" stroke-width="0.45"/>
<rect x="658.4" y="351.6" width="1" height="26.4" fill="#222"/>
<rect x="658" y="361.2" width="1.9" height="10.3" fill="#b0b0b0" stroke="#555" stroke-width="0.45"/>
<rect x="660.5" y="360" width="1" height="10.7" fill="#222"/>
<rect x="660.1" y="363" width="1.9" height="5.2" fill="#b0b0b0" stroke="#555" stroke-width="0.45"/>
<rect x="662.6" y="365.5" width="1" height="13.7" fill="#222"/>
<rect x="662.2" y="369.7" width="1.9" height="8.9" fill="#b0b0b0" stroke="#555" stroke-width="0.45"/>
<rect x="664.8" y="362.4" width="1" height="18" fill="#222"/>
<rect x="664.3" y="368" width="1.9" height="5.8" fill="#b0b0b0" stroke="#555" stroke-width="0.45"/>
<rect x="666.9" y="351.1" width="1" height="12.1" fill="#000"/>
<rect x="666.7" y="353.9" width="1.4" height="8.1" fill="#000"/>
<rect x="669" y="338.6" width="1" height="18.7" fill="#000"/>
<rect x="668.8" y="341" width="1.4" height="13.1" fill="#000"/>
<rect x="671.1" y="337" width="1" height="18.1" fill="#222"/>
<rect x="670.7" y="337.3" width="1.9" height="16.9" fill="#b0b0b0" stroke="#555" stroke-width="0.45"/>
<rect x="673.2" y="337.6" width="1" height="16.3" fill="#222"/>
<rect x="672.8" y="343.6" width="1.9" height="7.4" fill="#b0b0b0" stroke="#555" stroke-width="0.45"/>
<rect x="675.4" y="355.3" width="1" height="11.5" fill="#000"/>
<rect x="675.2" y="359.8" width="1.4" height="4.8" fill="#000"/>
<rect x="677.5" y="357.1" width="1" height="14.5" fill="#222"/>
<rect x="677" y="360.8" width="1.9" height="9.5" fill="#b0b0b0" stroke="#555" stroke-width="0.45"/>
<rect x="679.6" y="346.3" width="1" height="19" fill="#000"/>
<rect x="679.4" y="347.2" width="1.4" height="10.8" fill="#000"/>
<rect x="681.7" y="345.5" width="1" height="18.6" fill="#222"/>
<rect x="681.3" y="346.5" width="1.9" height="17.5" fill="#b0b0b0" stroke="#555" stroke-width="0.45"/>
<rect x="683.8" y="356.3" width="1" height="16.7" fill="#222"/>
<rect x="683.4" y="356.6" width="1.9" height="11.2" fill="#b0b0b0" stroke="#555" stroke-width="0.45"/>
<rect x="686" y="366.5" width="1" height="10.3" fill="#000"/>
<rect x="685.8" y="369.6" width="1.4" height="7" fill="#000"/>
<rect x="688.1" y="364.7" width="1" height="11.1" fill="#222"/>
<rect x="687.6" y="365.9" width="1.9" height="5.7" fill="#b0b0b0" stroke="#555" stroke-width="0.45"/>
<rect x="690.2" y="366.8" width="1" height="13" fill="#000"/>
<rect x="690" y="366.8" width="1.4" height="9.6" fill="#000"/>
<rect x="692.3" y="368.5" width="1" height="11.1" fill="#222"/>
<rect x="691.9" y="369.2" width="1.9" height="6.5" fill="#b0b0b0" stroke="#555" stroke-width="0.45"/>
<rect x="694.4" y="368.2" width="1" height="13" fill="#000"/>
<rect x="694.2" y="370.1" width="1.4" height="8.1" fill="#000"/>
<rect x="696.6" y="367.3" width="1" height="8.8" fill="#000"/>
<rect x="696.4" y="368.6" width="1.4" height="5.3" fill="#000"/>
<rect x="698.7" y="371.5" width="1" height="8.1" fill="#000"/>
<rect x="698.5" y="372.7" width="1.4" height="4.3" fill="#000"/>
<rect x="700.8" y="372.8" width="1" height="8.4" fill="#222"/>
<rect x="700.4" y="373" width="1.9" height="4.9" fill="#b0b0b0" stroke="#555" stroke-width="0.45"/>
<rect x="702.9" y="370.3" width="1" height="7.7" fill="#000"/>
<rect x="702.7" y="371.3" width="1.4" height="4.8" fill="#000"/>
<rect x="705" y="374.3" width="1" height="26.7" fill="#000"/>
<rect x="704.8" y="378.9" width="1.4" height="12.6" fill="#000"/>
<rect x="707.2" y="372.4" width="1" height="11.9" fill="#222"/>
<rect x="706.7" y="375.3" width="1.9" height="4.8" fill="#b0b0b0" stroke="#555" stroke-width="0.45"/>
<rect x="709.3" y="381.2" width="1" height="15.8" fill="#000"/>
<rect x="709.1" y="383.9" width="1.4" height="9.4" fill="#000"/>
<rect x="711.4" y="394" width="1" height="22" fill="#000"/>
<rect x="711.2" y="394.3" width="1.4" height="14.3" fill="#000"/>
<rect x="713.5" y="401.8" width="1" height="11.3" fill="#222"/>
<rect x="713.1" y="405.6" width="1.9" height="3.8" fill="#b0b0b0" stroke="#555" stroke-width="0.45"/>
<rect x="715.6" y="396.4" width="1" height="7.8" fill="#222"/>
<rect x="715.2" y="397.4" width="1.9" height="6.5" fill="#b0b0b0" stroke="#555" stroke-width="0.45"/>
<rect x="717.8" y="396" width="1" height="8.9" fill="#222"/>
<rect x="717.3" y="399.3" width="1.9" height="4.8" fill="#b0b0b0" stroke="#555" stroke-width="0.45"/>
<rect x="719.9" y="398.2" width="1" height="10" fill="#222"/>
<rect x="719.4" y="400" width="1.9" height="7.3" fill="#b0b0b0" stroke="#555" stroke-width="0.45"/>
<rect x="722" y="402.9" width="1" height="11.2" fill="#222"/>
<rect x="721.6" y="403.3" width="1.9" height="7.2" fill="#b0b0b0" stroke="#555" stroke-width="0.45"/>
<rect x="724.1" y="419.7" width="1" height="8.8" fill="#222"/>
<rect x="723.7" y="421.7" width="1.9" height="3.6" fill="#b0b0b0" stroke="#555" stroke-width="0.45"/>
<rect x="726.2" y="427.9" width="1" height="10.8" fill="#222"/>
<rect x="725.8" y="428.7" width="1.9" height="9.2" fill="#b0b0b0" stroke="#555" stroke-width="0.45"/>
<rect x="728.4" y="429.1" width="1" height="18.9" fill="#000"/>
<rect x="728.2" y="431.9" width="1.4" height="11.9" fill="#000"/>
<rect x="730.5" y="414.5" width="1" height="25.9" fill="#222"/>
<rect x="730" y="424.8" width="1.9" height="11.7" fill="#b0b0b0" stroke="#555" stroke-width="0.45"/>
<rect x="732.6" y="400" width="1" height="27.4" fill="#222"/>
<rect x="732.2" y="408.7" width="1.9" height="17.1" fill="#b0b0b0" stroke="#555" stroke-width="0.45"/>
<rect x="734.7" y="395.7" width="1" height="14.7" fill="#222"/>
<rect x="734.3" y="395.9" width="1.9" height="8.7" fill="#b0b0b0" stroke="#555" stroke-width="0.45"/>
<rect x="736.8" y="397.6" width="1" height="11.3" fill="#222"/>
<rect x="736.4" y="400.2" width="1.9" height="7.5" fill="#b0b0b0" stroke="#555" stroke-width="0.45"/>
<rect x="739" y="397.6" width="1" height="8.7" fill="#222"/>
<rect x="738.5" y="400.4" width="1.9" height="2.5" fill="#b0b0b0" stroke="#555" stroke-width="0.45"/>
<rect x="741.1" y="389.8" width="1" height="12.1" fill="#222"/>
<rect x="740.6" y="390.7" width="1.9" height="10.2" fill="#b0b0b0" stroke="#555" stroke-width="0.45"/>
<rect x="743.2" y="380.7" width="1" height="10.3" fill="#222"/>
<rect x="742.8" y="382.6" width="1.9" height="4.5" fill="#b0b0b0" stroke="#555" stroke-width="0.45"/>
<rect x="745.3" y="360" width="1" height="23.7" fill="#222"/>
<rect x="744.9" y="365.7" width="1.9" height="14.3" fill="#b0b0b0" stroke="#555" stroke-width="0.45"/>
<rect x="747.4" y="377" width="1" height="12.4" fill="#000"/>
<rect x="747.2" y="380.2" width="1.4" height="4.5" fill="#000"/>
<rect x="749.6" y="384.3" width="1" height="9.1" fill="#000"/>
<rect x="749.4" y="386" width="1.4" height="6.9" fill="#000"/>
<rect x="751.7" y="386.2" width="1" height="10.4" fill="#222"/>
<rect x="751.2" y="387.3" width="1.9" height="7.9" fill="#b0b0b0" stroke="#555" stroke-width="0.45"/>
<rect x="753.8" y="386.3" width="1" height="6.5" fill="#000"/>
<rect x="753.6" y="388.5" width="1.4" height="4.2" fill="#000"/>
<rect x="755.9" y="387.6" width="1" height="5.7" fill="#000"/>
<rect x="755.7" y="387.8" width="1.4" height="5.3" fill="#000"/>
<rect x="758" y="384.6" width="1" height="5.6" fill="#000"/>
<rect x="757.8" y="386.1" width="1.4" height="3.4" fill="#000"/>
<rect x="760.2" y="381.4" width="1" height="9.1" fill="#222"/>
<rect x="759.7" y="382.4" width="1.9" height="7.7" fill="#b0b0b0" stroke="#555" stroke-width="0.45"/>
<rect x="762.3" y="392.8" width="1" height="11.1" fill="#000"/>
<rect x="762.1" y="393.8" width="1.4" height="9.4" fill="#000"/>
<rect x="764.4" y="405.1" width="1" height="14.9" fill="#222"/>
<rect x="764" y="405.3" width="1.9" height="9.2" fill="#b0b0b0" stroke="#555" stroke-width="0.45"/>
<rect x="766.5" y="407.3" width="1" height="9.3" fill="#222"/>
<rect x="766.1" y="410.6" width="1.9" height="2.8" fill="#b0b0b0" stroke="#555" stroke-width="0.45"/>
<rect x="768.6" y="394.9" width="1" height="14.7" fill="#000"/>
<rect x="768.4" y="399.8" width="1.4" height="6.1" fill="#000"/>
<rect x="770.8" y="385" width="1" height="16.6" fill="#222"/>
<rect x="770.3" y="390.5" width="1.9" height="8" fill="#b0b0b0" stroke="#555" stroke-width="0.45"/>
<rect x="772.9" y="371.9" width="1" height="15.9" fill="#000"/>
<rect x="772.7" y="376.4" width="1.4" height="7.8" fill="#000"/>
<rect x="775" y="369.4" width="1" height="13.1" fill="#000"/>
<rect x="774.8" y="370.8" width="1.4" height="9.6" fill="#000"/>
<rect x="777.1" y="368.5" width="1" height="13.3" fill="#000"/>
<rect x="776.9" y="369.4" width="1.4" height="9.8" fill="#000"/>
<rect x="779.2" y="355.1" width="1" height="14.3" fill="#000"/>
<rect x="779" y="355.8" width="1.4" height="8" fill="#000"/>
<rect x="781.4" y="362.1" width="1" height="12.7" fill="#000"/>
<rect x="781.2" y="364.5" width="1.4" height="8.9" fill="#000"/>
<rect x="783.5" y="342.1" width="1" height="15.7" fill="#222"/>
<rect x="783" y="344.3" width="1.9" height="7.2" fill="#b0b0b0" stroke="#555" stroke-width="0.45"/>
<rect x="785.6" y="316.2" width="1" height="23.3" fill="#222"/>
<rect x="785.2" y="324.6" width="1.9" height="14.4" fill="#b0b0b0" stroke="#555" stroke-width="0.45"/>
<rect x="787.7" y="284.8" width="1" height="24.2" fill="#222"/>
<rect x="787.3" y="294.3" width="1.9" height="14.6" fill="#b0b0b0" stroke="#555" stroke-width="0.45"/>
<rect x="789.8" y="271" width="1" height="25.3" fill="#222"/>
<rect x="789.4" y="279.5" width="1.9" height="11.6" fill="#b0b0b0" stroke="#555" stroke-width="0.45"/>
<rect x="792" y="264" width="1" height="22.7" fill="#000"/>
<rect x="791.8" y="272.3" width="1.4" height="12.4" fill="#000"/>
<rect x="794.1" y="264.7" width="1" height="18.8" fill="#000"/>
<rect x="793.9" y="270" width="1.4" height="12" fill="#000"/>
<rect x="796.2" y="270.8" width="1" height="28.2" fill="#222"/>
<rect x="795.8" y="277.7" width="1.9" height="15.7" fill="#b0b0b0" stroke="#555" stroke-width="0.45"/>
<rect x="798.3" y="280.6" width="1" height="8" fill="#222"/>
<rect x="797.9" y="283.2" width="1.9" height="3.5" fill="#b0b0b0" stroke="#555" stroke-width="0.45"/>
<rect x="800.4" y="276.6" width="1" height="10.8" fill="#000"/>
<rect x="800.2" y="279.8" width="1.4" height="5.9" fill="#000"/>
<rect x="802.6" y="263.9" width="1" height="14.4" fill="#000"/>
<rect x="802.4" y="268.8" width="1.4" height="4.6" fill="#000"/>
<rect x="804.7" y="239.3" width="1" height="21.5" fill="#000"/>
<rect x="804.5" y="247.2" width="1.4" height="9.6" fill="#000"/>
<rect x="806.8" y="227.8" width="1" height="14.2" fill="#222"/>
<rect x="806.4" y="229.9" width="1.9" height="11.2" fill="#b0b0b0" stroke="#555" stroke-width="0.45"/>
<rect x="808.9" y="218.2" width="1" height="15.1" fill="#000"/>
<rect x="808.7" y="218.3" width="1.4" height="12" fill="#000"/>
<rect x="811" y="209.1" width="1" height="17.5" fill="#000"/>
<rect x="810.8" y="214.8" width="1.4" height="5.7" fill="#000"/>
<rect x="813.2" y="214" width="1" height="14.3" fill="#000"/>
<rect x="813" y="216.1" width="1.4" height="7.8" fill="#000"/>
<rect x="815.3" y="212.2" width="1" height="13.7" fill="#222"/>
<rect x="814.8" y="215" width="1.9" height="8" fill="#b0b0b0" stroke="#555" stroke-width="0.45"/>
<rect x="817.4" y="196.4" width="1" height="15.3" fill="#222"/>
<rect x="817" y="202.4" width="1.9" height="8" fill="#b0b0b0" stroke="#555" stroke-width="0.45"/>
<rect x="819.5" y="195.2" width="1" height="11.1" fill="#000"/>
<rect x="819.3" y="195.4" width="1.4" height="10.5" fill="#000"/>
<rect x="821.6" y="193.3" width="1" height="19.9" fill="#222"/>
<rect x="821.2" y="193.4" width="1.9" height="15" fill="#b0b0b0" stroke="#555" stroke-width="0.45"/>
<rect x="823.8" y="175.6" width="1" height="33.2" fill="#222"/>
<rect x="823.3" y="187.2" width="1.9" height="12.1" fill="#b0b0b0" stroke="#555" stroke-width="0.45"/>
<rect x="825.9" y="161.7" width="1" height="31.7" fill="#000"/>
<rect x="825.7" y="168" width="1.4" height="19.1" fill="#000"/>
<rect x="828" y="169.9" width="1" height="20.7" fill="#222"/>
<rect x="827.6" y="174.7" width="1.9" height="8.7" fill="#b0b0b0" stroke="#555" stroke-width="0.45"/>
<rect x="830.1" y="169.4" width="1" height="38.6" fill="#000"/>
<rect x="829.9" y="180.9" width="1.4" height="24.5" fill="#000"/>
<rect x="832.2" y="176.8" width="1" height="23.8" fill="#222"/>
<rect x="831.8" y="184.8" width="1.9" height="10.8" fill="#b0b0b0" stroke="#555" stroke-width="0.45"/>
<rect x="834.4" y="157" width="1" height="25.2" fill="#222"/>
<rect x="833.9" y="164.8" width="1.9" height="14" fill="#b0b0b0" stroke="#555" stroke-width="0.45"/>
<rect x="836.5" y="163.3" width="1" height="15.4" fill="#000"/>
<rect x="836.3" y="168.3" width="1.4" height="4.8" fill="#000"/>
<rect x="838.6" y="174.4" width="1" height="15.8" fill="#000"/>
<rect x="838.4" y="174.8" width="1.4" height="12.2" fill="#000"/>
<rect x="840.7" y="183.6" width="1" height="14.7" fill="#000"/>
<rect x="840.5" y="187.3" width="1.4" height="8.8" fill="#000"/>
<rect x="842.8" y="189.9" width="1" height="10.1" fill="#000"/>
<rect x="842.6" y="191.7" width="1.4" height="6.3" fill="#000"/>
<rect x="845" y="194.7" width="1" height="6.1" fill="#000"/>
<rect x="844.8" y="197" width="1.4" height="2.3" fill="#000"/>
<rect x="847.1" y="195.1" width="1" height="13.9" fill="#000"/>
<rect x="846.9" y="200" width="1.4" height="8.8" fill="#000"/>
<rect x="849.2" y="194.1" width="1" height="7.6" fill="#000"/>
<rect x="849" y="195.8" width="1.4" height="3.1" fill="#000"/>
<rect x="851.3" y="191.1" width="1" height="9.2" fill="#000"/>
<rect x="851.1" y="193" width="1.4" height="5.7" fill="#000"/>
<rect x="853.4" y="188.6" width="1" height="16.1" fill="#222"/>
<rect x="853" y="189.4" width="1.9" height="11.5" fill="#b0b0b0" stroke="#555" stroke-width="0.45"/>
<rect x="855.6" y="192.7" width="1" height="39.3" fill="#222"/>
<rect x="855.1" y="196.9" width="1.9" height="27.8" fill="#b0b0b0" stroke="#555" stroke-width="0.45"/>
<rect x="857.7" y="177.1" width="1" height="31.2" fill="#000"/>
<rect x="857.5" y="180.7" width="1.4" height="22.5" fill="#000"/>
<rect x="859.8" y="172" width="1" height="28" fill="#000"/>
<rect x="859.6" y="176" width="1.4" height="22" fill="#000"/>
<rect x="861.9" y="170" width="1" height="35" fill="#222"/>
<rect x="861.5" y="175" width="1.9" height="25" fill="#b0b0b0" stroke="#555" stroke-width="0.45"/>
<rect x="864" y="148" width="1" height="52" fill="#222"/>
<rect x="863.6" y="152" width="1.9" height="46" fill="#b0b0b0" stroke="#555" stroke-width="0.45"/>
<rect x="866.2" y="120" width="1" height="30" fill="#000"/>
<rect x="866" y="122" width="1.4" height="26" fill="#000"/>
<rect x="868.3" y="130" width="1" height="18" fill="#000"/>
<rect x="868.1" y="133" width="1.4" height="13" fill="#000"/>
<rect x="870.4" y="134" width="1" height="16" fill="#222"/>
<rect x="870" y="136" width="1.9" height="12" fill="#b0b0b0" stroke="#555" stroke-width="0.45"/>
<rect x="872.5" y="138" width="1" height="17" fill="#000"/>
<rect x="872.3" y="140" width="1.4" height="13" fill="#000"/>
<rect x="874.6" y="140" width="1" height="53" fill="#000"/>
<rect x="874.4" y="143" width="1.4" height="47" fill="#000"/>
<rect x="876.8" y="168" width="1" height="29" fill="#000"/>
<rect x="876.6" y="172" width="1.4" height="22" fill="#000"/>
<rect x="878.9" y="160" width="1" height="36" fill="#222"/>
<rect x="878.4" y="170" width="1.9" height="22" fill="#b0b0b0" stroke="#555" stroke-width="0.45"/>
<rect x="881" y="140" width="1" height="47" fill="#222"/>
<rect x="880.6" y="145" width="1.9" height="38" fill="#b0b0b0" stroke="#555" stroke-width="0.45"/>
<rect x="883.1" y="132" width="1" height="30" fill="#000"/>
<rect x="882.9" y="136" width="1.4" height="22" fill="#000"/>
<rect x="885.2" y="125" width="1" height="25" fill="#222"/>
<rect x="884.8" y="128" width="1.9" height="19" fill="#b0b0b0" stroke="#555" stroke-width="0.45"/>
<rect x="887.4" y="122" width="1" height="18" fill="#222"/>
<rect x="886.9" y="125" width="1.9" height="13" fill="#b0b0b0" stroke="#555" stroke-width="0.45"/>
<rect x="889.5" y="94" width="1" height="35" fill="#000"/>
<rect x="889.3" y="102.5" width="1.4" height="25.5" fill="#000"/>
<polyline fill="none" points="0,150 5,143 10,138 17,132 22,130 27,133 31,137 35,141 40,138 45,136 49,137.5 53,139.4 56,142.5 60,146 65,150 70,155 75,158 80,160 85,164 91,168 99,179 105,189 110,191 119,186 129,186 137,185 140,177 144,169 148,166 153,169 157,175 161,185 164,193 168,198 171,206 176,222 178,231 184,243 190,249 196,244 203,237 213,237 221,238 230,232 234,234 240,245 246,261 253,278 259,285 265,288 272,285 278,270 285,245 291,225 297,190 301,172 304,161 306,158 310,160 314,165 318,171 322,174 326,171 330,171 334,173 339,176 343,187 347,201 353,216 360,224 365,223 370,209 373,180 376,150 378,128 381,124 386,121 390,125 394,123 399,128 402,134 405,138 409,134 413,131 416,123 419,126 421,136 424,148 427,155 429,158 432,163 434,169 438,184 440,189 443,197.5 446,205 448,210 449.4,230 452.5,238.8 455.7,247.5 458.8,247.5 461.9,249.4 465,253.8 468.8,260 473.8,262 477.6,265.1 481.4,270.1 483.9,274.5 487.6,272.6 491.4,272.6 495.1,272.6 500,278.2 502,281.8 509.3,288 513.5,298.5 517.7,311 521.9,327.7 524,340 527,346 531,355 536,353 540,351 546,351 550,346 554,345 561,346 567,343 572,344 575,346 581,351 587,353 593,354 600,356 606,357 612,362 616,363 620,352 624,346 629,327 634,318 638,315 643,318 646,314 651,303 655,302 659,303 663,308 667,307 672,309 678,310 684,312 687,316 690,322 692,330 695,340 699,350 704,353 713,354 719,356 724,359 728,356 734,357 738,361 742,365 746,362 750,362 755,359 761,361 767,362 773,359 778,354 782,340 785,322 789,305 793,283 797,261 802,240 805,228 808,205 811,188 815,174 819,166 823,161 830,153 834,149 840,147 843,151 846,157 852,161 857,162 862,160 865,148 868,137 873,133 878,135 883,132 886,128 888,118 890,99 892,90" stroke="#78b4b4" stroke-width="0.9"/>
<polyline fill="none" points="0,219 4,220 7,222 11,214.5 19,201 24,188 30,177 33,171.5 36,170.3 43,186 51,195.7 56,198.5 61,199.5 70,205 76,218 81,232 89,236 98,238 106,230 114,229 121,225 127,221 134,221 137,223 141,238 144,266 150,275 154,283 158,288 161,290 164,294 166,299 169,304 171,308 175,309 178,306 181,301 184,301 190,303 196,306 203,308 208,308 212,304 214,302 218,303 223,311 229,318 233,324 236,330 240,335 244,333 250,330 257,328.5 263,326 268,326 275,328 282,332 290,338 299,336 305,318 308,310 312.3,291.2 316.7,273.6 321.1,263.4 324,262 326.9,265.6 331.3,272.2 335.7,281 340.1,288.2 344.5,282.4 348.9,276.5 354.7,272.9 360.6,271.4 365,275.1 370.8,282.4 377.4,291.2 382.5,282.4 388.3,269.2 395,254.6 397,243 402,231 406,225 409,229 412,240 416,255 421,274 427,287 433,300 439,310 445,313 450,306 454,306 457,305 460,311 464,316 468,322 474,327 480,327 485,330 488,337 492,357 498,369 504,378 510,382 513,401 519,402 525,395 531,389 538,391 544,393 550,399 554,405 559,407 566,408 573,410 578,414 581,420 585,426 590,430 595,434 599,439 603,443 608,443 613,441 618,440 621,439 625,443 630,445 635,437 639,428 644,417 648,403 652,396 656,396 660,390 663,387 671,393 679,397 689,402 695,397 701,393 708,392 713,401 717,406 722,414 726,420 730,440 736,441 742,442 745,442 749,442 755,440 761,439 767,438 769,429 771,419 775,417.5 780,417 783,415 785,422 787,432 790,445 794,453 798,448 804,440 809,425 812,412 815,400 819,384 822,360 825,330 830,307 835,280 839,257 843,241 847,234 850,232 853,228 860,227 865,228 868,233 873,236 880,237 885,238 889,238 892,242" stroke="#78b4b4" stroke-width="0.9"/>
<polyline fill="none" points="0,183 10,173 20,163 28,157 34,155 39,157 44,159.5 49,162.6 55,167.6 60,170 65,174 70,179 74,184 77,187.6 86.4,198 95.8,204.5 101.7,209 105.2,210 112.7,210 120.2,206 130,203 137,204 144,212 152,223 160,236 167,248 173,260 178,266 183,272 186,276 191,276 198,274 205,272 210,272 217,272 228,275 236,281 241,290 251,300 261,305 270,304 278,298 286,288 293,273 299,259 303,252 311,232 319,220 326,219 334,222 342,230 350,238 357,247 360,247 366,239 374,224 383,206 391,193 399,186 406,180 412,187 416,195 421,206 427,220 434,233 438,244 442.5,253.8 446.3,261.3 450,268.8 453.8,273.9 457.5,277 461.9,280.1 465,283.9 468.8,288.9 471,291 477,295 483,299 488,309 496,321 504,334 513,346 521,359 527,368 533,371 538,370 545,372 552,374 559,376 567,377 574,381 581,385 589,389 596,392 603,394 610,395 616,398 621,396 627,390 635,382 644,367 652,357 656,350 663,346 671,350 679,353 688,357 696,365 704,373 712,380 717,383 725,389 731,397 738,401 744,402 750,401 760,395 771,389 782,382 790,368 799,351 805,330 812,303 820,272 826,249 831,233 837,218 842,205 847,197 855,193 863,190 872,185 880,182 888,174 892,167" stroke="#606060" stroke-width="0.8" stroke-dasharray="2,2"/>
<g fill="#1e9a1e"><rect x="273" y="283.3" width="2" height="5"/><polygon points="274,280.6 270.8,284.3 277.2,284.3"/></g>
<g fill="#1e9a1e"><rect x="280" y="268" width="2" height="5"/><polygon points="281,265.3 277.8,269 284.2,269"/></g>
<g fill="#1e9a1e"><rect x="363" y="221.7" width="2" height="5"/><polygon points="364,219 360.8,222.7 367.2,222.7"/></g>
<g fill="#1e9a1e"><rect x="371" y="183.1" width="2" height="5"/><polygon points="372,180.4 368.8,184.1 375.2,184.1"/></g>
<g fill="#1e9a1e"><rect x="532" y="356.3" width="2" height="5"/><polygon points="533,353.6 529.8,357.3 536.2,357.3"/></g>
<g fill="#1e9a1e"><rect x="607" y="359.3" width="2" height="5"/><polygon points="608,356.6 604.8,360.3 611.2,360.3"/></g>
<g fill="#1e9a1e"><rect x="623" y="347.7" width="2" height="5"/><polygon points="624,345 620.8,348.7 627.2,348.7"/></g>
<g fill="#1e9a1e"><rect x="647" y="309.5" width="2" height="5"/><polygon points="648,306.8 644.8,310.5 651.2,310.5"/></g>
<g fill="#1e9a1e"><rect x="783" y="338.9" width="2" height="5"/><polygon points="784,336.2 780.8,339.9 787.2,339.9"/></g>
<g fill="#1e9a1e"><rect x="792" y="274.4" width="2" height="5"/><polygon points="793,271.7 789.8,275.4 796.2,275.4"/></g>
<g fill="#1e9a1e"><rect x="863" y="156.8" width="2" height="5"/><polygon points="864,154.1 860.8,157.8 867.2,157.8"/></g>
<g fill="#1e9a1e"><rect x="888" y="110" width="2" height="5"/><polygon points="889,107.3 885.8,111 892.2,111"/></g>
<g fill="#a01018"><rect x="37" y="164.1" width="2" height="5"/><polygon points="38,171.8 34.8,168.1 41.2,168.1"/></g>
<g fill="#a01018"><rect x="70.6" y="202.9" width="2" height="5"/><polygon points="71.6,210.6 68.4,206.9 74.8,206.9"/></g>
<g fill="#a01018"><rect x="77" y="218.5" width="2" height="5"/><polygon points="78,226.2 74.8,222.5 81.2,222.5"/></g>
<g fill="#a01018"><rect x="137" y="221.7" width="2" height="5"/><polygon points="138,229.4 134.8,225.7 141.2,225.7"/></g>
<g fill="#a01018"><rect x="325" y="260.1" width="2" height="5"/><polygon points="326,267.8 322.8,264.1 329.2,264.1"/></g>
<g fill="#a01018"><rect x="414.5" y="255.3" width="2" height="5"/><polygon points="415.5,263 412.3,259.3 418.7,259.3"/></g>
<g fill="#a01018"><rect x="461.6" y="306.9" width="2" height="5"/><polygon points="462.6,314.6 459.4,310.9 465.8,310.9"/></g>
<g fill="#a01018"><rect x="482.8" y="323.7" width="2" height="5"/><polygon points="483.8,331.4 480.6,327.7 487,327.7"/></g>
<g fill="#a01018"><rect x="547" y="388.5" width="2" height="5"/><polygon points="548,396.2 544.8,392.5 551.2,392.5"/></g>
<g fill="#a01018"><rect x="577" y="408.4" width="2" height="5"/><polygon points="578,416.1 574.8,412.4 581.2,412.4"/></g>
<g fill="#a01018"><rect x="709" y="388.5" width="2" height="5"/><polygon points="710,396.2 706.8,392.5 713.2,392.5"/></g>
<g fill="#a01018"><rect x="726" y="424" width="2" height="5"/><polygon points="727,431.7 723.8,428 730.2,428"/></g>
<g fill="#a01018"><rect x="854.4" y="219.2" width="2" height="5"/><polygon points="855.4,226.9 852.2,223.2 858.6,223.2"/></g>
<rect x="1" y="51.4" width="999" height="2" fill="#ff0000"/>
<rect x="1" y="112.9" width="999" height="2" fill="#ff0000"/>
<rect x="1" y="142" width="999" height="2" fill="#ff0000"/>
<rect x="1" y="249.8" width="999" height="2" fill="#ff0000"/>
<rect x="1" y="359.8" width="999" height="2" fill="#ff0000"/>
<rect x="1" y="281" width="999" height="1" fill="#808080"/>
<rect x="1" y="388.7" width="999" height="2" fill="#000"/>
<rect x="1" y="452.8" width="999" height="2" fill="#000"/>
<line x1="768" y1="289.5" x2="916.2" y2="0" stroke="#3330a6" stroke-width="1.9"/>
<line x1="767.6" y1="420.5" x2="933.6" y2="97.5" stroke="#3330a6" stroke-width="1.9"/>
<line x1="11.8" y1="141" x2="11.8" y2="147.7" stroke="#666" stroke-width="1"/>
<line x1="26" y1="140.8" x2="26" y2="146.6" stroke="#666" stroke-width="1"/>
<line x1="16.3" y1="170" x2="16.3" y2="172.2" stroke="#666" stroke-width="1"/>
<line x1="81.9" y1="227.1" x2="81.9" y2="233.6" stroke="#666" stroke-width="1"/>
<line x1="118.5" y1="177.6" x2="118.5" y2="184.4" stroke="#666" stroke-width="1"/>
<line x1="168" y1="296.8" x2="168" y2="312.5" stroke="#666" stroke-width="1"/>
<line x1="197.5" y1="234.1" x2="197.5" y2="244" stroke="#666" stroke-width="1"/>
<line x1="235.8" y1="327" x2="235.8" y2="334.7" stroke="#666" stroke-width="1"/>
<line x1="253.4" y1="281.1" x2="253.4" y2="294.3" stroke="#666" stroke-width="1"/>
<line x1="266.3" y1="309.7" x2="266.3" y2="314.1" stroke="#666" stroke-width="1"/>
<line x1="291.3" y1="190.1" x2="291.3" y2="203.2" stroke="#666" stroke-width="1"/>
<line x1="295.7" y1="209.6" x2="295.7" y2="221.7" stroke="#666" stroke-width="1"/>
<line x1="302.2" y1="174.9" x2="302.2" y2="179.4" stroke="#666" stroke-width="1"/>
<line x1="310.4" y1="218" x2="310.4" y2="225.9" stroke="#666" stroke-width="1"/>
<line x1="313.2" y1="198.9" x2="313.2" y2="210.1" stroke="#666" stroke-width="1"/>
<line x1="326" y1="266.3" x2="326" y2="278.7" stroke="#666" stroke-width="1"/>
<line x1="330.3" y1="234.7" x2="330.3" y2="247.8" stroke="#666" stroke-width="1"/>
<line x1="340.1" y1="256.7" x2="340.1" y2="270.9" stroke="#666" stroke-width="1"/>
<line x1="370" y1="169.2" x2="370" y2="171.8" stroke="#666" stroke-width="1"/>
<line x1="372.6" y1="177.9" x2="372.6" y2="205.6" stroke="#666" stroke-width="1"/>
<line x1="377.1" y1="129.4" x2="377.1" y2="131" stroke="#666" stroke-width="1"/>
<line x1="394.1" y1="167.1" x2="394.1" y2="176.5" stroke="#666" stroke-width="1"/>
<line x1="390.4" y1="188.4" x2="390.4" y2="199.3" stroke="#666" stroke-width="1"/>
<line x1="419.6" y1="231.4" x2="419.6" y2="246" stroke="#666" stroke-width="1"/>
<line x1="415.6" y1="236.4" x2="415.6" y2="285.1" stroke="#666" stroke-width="1"/>
<line x1="428.3" y1="268.2" x2="428.3" y2="307.4" stroke="#666" stroke-width="1"/>
<line x1="464.4" y1="317.9" x2="464.4" y2="326.4" stroke="#666" stroke-width="1"/>
<line x1="479.4" y1="293.9" x2="479.4" y2="301.3" stroke="#666" stroke-width="1"/>
<line x1="488.6" y1="382" x2="488.6" y2="382.5" stroke="#666" stroke-width="1"/>
<line x1="498.4" y1="352.5" x2="498.4" y2="357.3" stroke="#666" stroke-width="1"/>
<line x1="522.6" y1="376" x2="522.6" y2="394.1" stroke="#666" stroke-width="1"/>
<line x1="537.2" y1="337.3" x2="537.2" y2="350.4" stroke="#666" stroke-width="1"/>
<line x1="566.9" y1="336.7" x2="566.9" y2="357.6" stroke="#666" stroke-width="1"/>
<line x1="571.5" y1="348.3" x2="571.5" y2="366.3" stroke="#666" stroke-width="1"/>
<line x1="562.8" y1="383" x2="562.8" y2="430.6" stroke="#666" stroke-width="1"/>
<line x1="569.2" y1="371.9" x2="569.2" y2="393.4" stroke="#666" stroke-width="1"/>
<line x1="577.6" y1="395.6" x2="577.6" y2="436.9" stroke="#666" stroke-width="1"/>
<line x1="588.4" y1="389.6" x2="588.4" y2="398.3" stroke="#666" stroke-width="1"/>
<line x1="601.1" y1="437" x2="601.1" y2="439.7" stroke="#666" stroke-width="1"/>
<line x1="759.2" y1="378.9" x2="759.2" y2="384.6" stroke="#666" stroke-width="1"/>
<line x1="754.6" y1="392.8" x2="754.6" y2="400.3" stroke="#666" stroke-width="1"/>
<line x1="763.5" y1="403.9" x2="763.5" y2="424.4" stroke="#666" stroke-width="1"/>
<line x1="809.8" y1="209.2" x2="809.8" y2="218.2" stroke="#666" stroke-width="1"/>
<line x1="814.9" y1="225.8" x2="814.9" y2="244.7" stroke="#666" stroke-width="1"/>
<line x1="825.1" y1="160.6" x2="825.1" y2="175.6" stroke="#666" stroke-width="1"/>
<line x1="831.8" y1="200.6" x2="831.8" y2="208.4" stroke="#666" stroke-width="1"/>
<circle cx="11.8" cy="135.9" r="5.1" fill="none" stroke="#333" stroke-width="0.8"/>
<text x="11.8" y="138.5" class="cl">a</text>
<circle cx="26" cy="135.7" r="5.1" fill="none" stroke="#333" stroke-width="0.8"/>
<text x="26" y="138.3" class="cl">c</text>
<circle cx="16.3" cy="177.3" r="5.1" fill="none" stroke="#333" stroke-width="0.8"/>
<text x="16.3" y="179.9" class="cl">b</text>
<circle cx="81.9" cy="238.7" r="5.1" fill="none" stroke="#333" stroke-width="0.8"/>
<text x="81.9" y="241.3" class="cl">i</text>
<circle cx="118.5" cy="172.5" r="5.1" fill="none" stroke="#333" stroke-width="0.8"/>
<text x="118.5" y="175.1" class="cl">ii</text>
<circle cx="168" cy="317.6" r="5.1" fill="none" stroke="#333" stroke-width="0.8"/>
<text x="168" y="320.2" class="cl">iii</text>
<circle cx="197.5" cy="229" r="5.1" fill="none" stroke="#333" stroke-width="0.8"/>
<text x="197.5" y="231.6" class="cl">iv</text>
<circle cx="235.8" cy="339.8" r="5.1" fill="none" stroke="#333" stroke-width="0.8"/>
<text x="235.8" y="342.4" class="cl">v</text>
<circle cx="253.4" cy="276" r="5.1" fill="none" stroke="#333" stroke-width="0.8"/>
<text x="253.4" y="278.6" class="cl">i</text>
<circle cx="266.3" cy="319.2" r="5.1" fill="none" stroke="#333" stroke-width="0.8"/>
<text x="266.3" y="321.8" class="cl">ii</text>
<circle cx="291.3" cy="185" r="5.1" fill="none" stroke="#333" stroke-width="0.8"/>
<text x="291.3" y="187.6" class="cl">iii</text>
<circle cx="295.7" cy="226.8" r="5.1" fill="none" stroke="#333" stroke-width="0.8"/>
<text x="295.7" y="229.4" class="cl">iv</text>
<circle cx="302.2" cy="169.8" r="5.1" fill="none" stroke="#333" stroke-width="0.8"/>
<text x="302.2" y="172.4" class="cl">v</text>
<circle cx="310.4" cy="231" r="5.1" fill="none" stroke="#333" stroke-width="0.8"/>
<text x="310.4" y="233.6" class="cl">a</text>
<circle cx="313.2" cy="193.8" r="5.1" fill="none" stroke="#333" stroke-width="0.8"/>
<text x="313.2" y="196.4" class="cl">b</text>
<circle cx="326" cy="283.8" r="5.1" fill="none" stroke="#333" stroke-width="0.8"/>
<text x="326" y="286.4" class="cl">c</text>
<circle cx="330.3" cy="229.6" r="5.1" fill="none" stroke="#333" stroke-width="0.8"/>
<text x="330.3" y="232.2" class="cl">i</text>
<circle cx="340.1" cy="276" r="5.1" fill="none" stroke="#333" stroke-width="0.8"/>
<text x="340.1" y="278.6" class="cl">ii</text>
<circle cx="370" cy="164.1" r="5.1" fill="none" stroke="#333" stroke-width="0.8"/>
<text x="370" y="166.7" class="cl">iii</text>
<circle cx="372.6" cy="210.7" r="5.1" fill="none" stroke="#333" stroke-width="0.8"/>
<text x="372.6" y="213.3" class="cl">iv</text>
<circle cx="377.1" cy="124.3" r="5.1" fill="none" stroke="#333" stroke-width="0.8"/>
<text x="377.1" y="126.9" class="cl">v</text>
<circle cx="394.1" cy="162" r="5.1" fill="none" stroke="#333" stroke-width="0.8"/>
<text x="394.1" y="164.6" class="cl">a</text>
<circle cx="390.4" cy="204.4" r="5.1" fill="none" stroke="#333" stroke-width="0.8"/>
<text x="390.4" y="207" class="cl">i</text>
<circle cx="419.6" cy="226.3" r="5.1" fill="none" stroke="#333" stroke-width="0.8"/>
<text x="419.6" y="228.9" class="cl">iv</text>
<circle cx="415.6" cy="290.2" r="5.1" fill="none" stroke="#333" stroke-width="0.8"/>
<text x="415.6" y="292.8" class="cl">iii</text>
<circle cx="428.3" cy="312.5" r="5.1" fill="none" stroke="#333" stroke-width="0.8"/>
<text x="428.3" y="315.1" class="cl">v</text>
<circle cx="464.4" cy="331.5" r="5.1" fill="none" stroke="#333" stroke-width="0.8"/>
<text x="464.4" y="334.1" class="cl">i</text>
<circle cx="479.4" cy="288.8" r="5.1" fill="none" stroke="#333" stroke-width="0.8"/>
<text x="479.4" y="291.4" class="cl">ii</text>
<circle cx="488.6" cy="387.6" r="5.1" fill="none" stroke="#333" stroke-width="0.8"/>
<text x="488.6" y="390.2" class="cl">iii</text>
<circle cx="498.4" cy="347.4" r="5.1" fill="none" stroke="#333" stroke-width="0.8"/>
<text x="498.4" y="350" class="cl">iv</text>
<circle cx="522.6" cy="399.2" r="5.1" fill="none" stroke="#333" stroke-width="0.8"/>
<text x="522.6" y="401.8" class="cl">v</text>
<circle cx="537.2" cy="332.2" r="5.1" fill="none" stroke="#333" stroke-width="0.8"/>
<text x="537.2" y="334.8" class="cl">a</text>
<circle cx="566.9" cy="331.6" r="5.1" fill="none" stroke="#333" stroke-width="0.8"/>
<text x="566.9" y="334.2" class="cl">c</text>
<circle cx="571.5" cy="343.2" r="5.1" fill="none" stroke="#333" stroke-width="0.8"/>
<text x="571.5" y="345.8" class="cl">ii</text>
<circle cx="562.8" cy="435.7" r="5.1" fill="none" stroke="#333" stroke-width="0.8"/>
<text x="562.8" y="438.3" class="cl">b</text>
<circle cx="569.2" cy="398.5" r="5.1" fill="none" stroke="#333" stroke-width="0.8"/>
<text x="569.2" y="401.1" class="cl">i</text>
<circle cx="577.6" cy="442" r="5.1" fill="none" stroke="#333" stroke-width="0.8"/>
<text x="577.6" y="444.6" class="cl">iii</text>
<circle cx="588.4" cy="384.5" r="5.1" fill="none" stroke="#333" stroke-width="0.8"/>
<text x="588.4" y="387.1" class="cl">iv</text>
<circle cx="601.1" cy="444.8" r="5.1" fill="none" stroke="#333" stroke-width="0.8"/>
<text x="601.1" y="447.4" class="cl">v</text>
<circle cx="759.2" cy="373.8" r="5.1" fill="none" stroke="#333" stroke-width="0.8"/>
<text x="759.2" y="376.4" class="cl">b</text>
<circle cx="754.6" cy="405.4" r="5.1" fill="none" stroke="#333" stroke-width="0.8"/>
<text x="754.6" y="408" class="cl">a</text>
<circle cx="763.5" cy="429.5" r="5.1" fill="none" stroke="#333" stroke-width="0.8"/>
<text x="763.5" y="432.1" class="cl">c</text>
<circle cx="809.8" cy="204.1" r="5.1" fill="none" stroke="#333" stroke-width="0.8"/>
<text x="809.8" y="206.7" class="cl">i</text>
<circle cx="814.9" cy="249.8" r="5.1" fill="none" stroke="#333" stroke-width="0.8"/>
<text x="814.9" y="252.4" class="cl">ii</text>
<circle cx="825.1" cy="155.5" r="5.1" fill="none" stroke="#333" stroke-width="0.8"/>
<text x="825.1" y="158.1" class="cl">iii</text>
<circle cx="831.8" cy="213.5" r="5.1" fill="none" stroke="#333" stroke-width="0.8"/>
<text x="831.8" y="216.1" class="cl">iv</text>
<circle cx="835.5" cy="155" r="5.1" fill="none" stroke="#333" stroke-width="0.8"/>
<text x="835.5" y="157.6" class="cl">v</text>
<line x1="744.4" y1="352" x2="744.4" y2="360" stroke="#8c8c8c" stroke-width="1"/>
<line x1="854.9" y1="231.5" x2="854.9" y2="241.5" stroke="#8c8c8c" stroke-width="1"/>
<text x="26.7" y="125.6" class="pl">4</text>
<text x="302" y="161.4" class="pl">A</text>
<text x="328.5" y="298.9" class="pl">B</text>
<text x="236" y="355.6" class="pl">5</text>
<text x="236" y="369.6" class="pl">(1)</text>
<text x="377" y="103.6" class="pl">(2)</text>
<text x="377" y="115.6" class="pl">C</text>
<text x="439.2" y="261.2" class="pl">2</text>
<text x="428.3" y="328.2" class="pl">1</text>
<text x="566.8" y="322.6" class="pl">4</text>
<text x="522.6" y="414.9" class="pl">3</text>
<text x="601.4" y="461.2" class="pl">5</text>
<text x="601.4" y="473.6" class="pl">(5)</text>
<text x="626.8" y="318.3" class="pl">A</text>
<text x="648.4" y="269.2" class="pl">(4)</text>
<text x="648.4" y="281.4" class="pl">C</text>
<text x="671.9" y="334.3" class="pl">2</text>
<text x="661.5" y="400.6" class="pl">1</text>
<text x="635.6" y="393.7" class="pl">B</text>
<text x="721" y="388.6" class="pl">4</text>
<text x="712.2" y="425.8" class="pl">3</text>
<text x="727.2" y="458.8" class="pl">5</text>
<text x="727.2" y="471.1" class="pl">(5)</text>
<text x="744.4" y="351.2" class="pl">1</text>
<text x="763.4" y="446" class="pl">2</text>
<text x="791.9" y="260.3" class="pl">3</text>
<text x="799.9" y="311.9" class="pl">4</text>
<text x="836.3" y="132.1" class="pl">(A)</text>
<text x="836.3" y="144" class="pl">5</text>
<text x="849.5" y="175.4" class="pl">B</text>
<text x="846.8" y="221.3" class="pl">A</text>
<text x="879" y="218.6" class="pl">2</text>
<text x="854.7" y="250.4" class="pl">C</text>
<text x="855.6" y="264.9" class="pl">(B)</text>
<text x="898.5" y="5.8" class="pl">3</text>
<ellipse cx="19.4" cy="139.8" rx="17.3" ry="16.7" fill="rgba(255,0,0,0.14)" stroke="#f21a1a" stroke-width="1.4"/>
<ellipse cx="384.3" cy="146.8" rx="16.9" ry="16.4" fill="rgba(255,0,0,0.14)" stroke="#f21a1a" stroke-width="1.4"/>
<ellipse cx="884.9" cy="115.6" rx="17.3" ry="16.6" fill="rgba(255,0,0,0.14)" stroke="#f21a1a" stroke-width="1.4"/>
<polyline points="891,81 891.6,73 897,55" fill="none" stroke="#111" stroke-width="0.8"/>
<polygon points="897.4,52.5 894,58 899.5,59" fill="#111"/>
<polygon points="868.2,106.5 866.6,110 869.8,110" fill="#111"/>
</g>
<rect x="1000" y="0" width="24" height="479" fill="#fff"/>
<rect x="0" y="467" width="1024" height="12" fill="#fff"/>
<rect x="1000" y="0" width="1" height="468" fill="#d8d8d0"/>
<rect x="1003" y="0" width="1.4" height="471" fill="#a8a8a8"/>
<rect x="0" y="467" width="1001" height="1" fill="#d8d8c8"/>
<rect x="0" y="470" width="1004" height="1" fill="#808080"/>
<rect x="1001" y="3.8" width="2.5" height="1" fill="#444"/>
<rect x="1002" y="8.3" width="1.5" height="1" fill="#444"/>
<rect x="1002" y="12.8" width="1.5" height="1" fill="#444"/>
<rect x="1002" y="17.3" width="1.5" height="1" fill="#444"/>
<rect x="1002" y="21.8" width="1.5" height="1" fill="#444"/>
<rect x="1001" y="26.3" width="2.5" height="1" fill="#444"/>
<rect x="1002" y="30.8" width="1.5" height="1" fill="#444"/>
<rect x="1002" y="35.3" width="1.5" height="1" fill="#444"/>
<rect x="1002" y="39.8" width="1.5" height="1" fill="#444"/>
<rect x="1002" y="44.3" width="1.5" height="1" fill="#444"/>
<rect x="1001" y="48.8" width="2.5" height="1" fill="#444"/>
<rect x="1002" y="53.3" width="1.5" height="1" fill="#444"/>
<rect x="1002" y="57.8" width="1.5" height="1" fill="#444"/>
<rect x="1002" y="62.3" width="1.5" height="1" fill="#444"/>
<rect x="1002" y="66.8" width="1.5" height="1" fill="#444"/>
<rect x="1001" y="71.3" width="2.5" height="1" fill="#444"/>
<rect x="1002" y="75.8" width="1.5" height="1" fill="#444"/>
<rect x="1002" y="80.4" width="1.5" height="1" fill="#444"/>
<rect x="1002" y="84.9" width="1.5" height="1" fill="#444"/>
<rect x="1002" y="89.4" width="1.5" height="1" fill="#444"/>
<rect x="1001" y="93.9" width="2.5" height="1" fill="#444"/>
<rect x="1002" y="98.4" width="1.5" height="1" fill="#444"/>
<rect x="1002" y="102.9" width="1.5" height="1" fill="#444"/>
<rect x="1002" y="107.4" width="1.5" height="1" fill="#444"/>
<rect x="1002" y="111.9" width="1.5" height="1" fill="#444"/>
<rect x="1001" y="116.4" width="2.5" height="1" fill="#444"/>
<rect x="1002" y="120.9" width="1.5" height="1" fill="#444"/>
<rect x="1002" y="125.4" width="1.5" height="1" fill="#444"/>
<rect x="1002" y="129.9" width="1.5" height="1" fill="#444"/>
<rect x="1002" y="134.4" width="1.5" height="1" fill="#444"/>
<rect x="1001" y="138.9" width="2.5" height="1" fill="#444"/>
<rect x="1002" y="143.4" width="1.5" height="1" fill="#444"/>
<rect x="1002" y="147.9" width="1.5" height="1" fill="#444"/>
<rect x="1002" y="152.4" width="1.5" height="1" fill="#444"/>
<rect x="1002" y="157" width="1.5" height="1" fill="#444"/>
<rect x="1001" y="161.5" width="2.5" height="1" fill="#444"/>
<rect x="1002" y="166" width="1.5" height="1" fill="#444"/>
<rect x="1002" y="170.5" width="1.5" height="1" fill="#444"/>
<rect x="1002" y="175" width="1.5" height="1" fill="#444"/>
<rect x="1002" y="179.5" width="1.5" height="1" fill="#444"/>
<rect x="1001" y="184" width="2.5" height="1" fill="#444"/>
<rect x="1002" y="188.5" width="1.5" height="1" fill="#444"/>
<rect x="1002" y="193" width="1.5" height="1" fill="#444"/>
<rect x="1002" y="197.5" width="1.5" height="1" fill="#444"/>
<rect x="1002" y="202" width="1.5" height="1" fill="#444"/>
<rect x="1001" y="206.5" width="2.5" height="1" fill="#444"/>
<rect x="1002" y="211" width="1.5" height="1" fill="#444"/>
<rect x="1002" y="215.5" width="1.5" height="1" fill="#444"/>
<rect x="1002" y="220" width="1.5" height="1" fill="#444"/>
<rect x="1002" y="224.5" width="1.5" height="1" fill="#444"/>
<rect x="1001" y="229.1" width="2.5" height="1" fill="#444"/>
<rect x="1002" y="233.6" width="1.5" height="1" fill="#444"/>
<rect x="1002" y="238.1" width="1.5" height="1" fill="#444"/>
<rect x="1002" y="242.6" width="1.5" height="1" fill="#444"/>
<rect x="1002" y="247.1" width="1.5" height="1" fill="#444"/>
<rect x="1001" y="251.6" width="2.5" height="1" fill="#444"/>
<rect x="1002" y="256.1" width="1.5" height="1" fill="#444"/>
<rect x="1002" y="260.6" width="1.5" height="1" fill="#444"/>
<rect x="1002" y="265.1" width="1.5" height="1" fill="#444"/>
<rect x="1002" y="269.6" width="1.5" height="1" fill="#444"/>
<rect x="1001" y="274.1" width="2.5" height="1" fill="#444"/>
<rect x="1002" y="278.6" width="1.5" height="1" fill="#444"/>
<rect x="1002" y="283.1" width="1.5" height="1" fill="#444"/>
<rect x="1002" y="287.6" width="1.5" height="1" fill="#444"/>
<rect x="1002" y="292.1" width="1.5" height="1" fill="#444"/>
<rect x="1001" y="296.6" width="2.5" height="1" fill="#444"/>
<rect x="1002" y="301.1" width="1.5" height="1" fill="#444"/>
<rect x="1002" y="305.7" width="1.5" height="1" fill="#444"/>
<rect x="1002" y="310.2" width="1.5" height="1" fill="#444"/>
<rect x="1002" y="314.7" width="1.5" height="1" fill="#444"/>
<rect x="1001" y="319.2" width="2.5" height="1" fill="#444"/>
<rect x="1002" y="323.7" width="1.5" height="1" fill="#444"/>
<rect x="1002" y="328.2" width="1.5" height="1" fill="#444"/>
<rect x="1002" y="332.7" width="1.5" height="1" fill="#444"/>
<rect x="1002" y="337.2" width="1.5" height="1" fill="#444"/>
<rect x="1001" y="341.7" width="2.5" height="1" fill="#444"/>
<rect x="1002" y="346.2" width="1.5" height="1" fill="#444"/>
<rect x="1002" y="350.7" width="1.5" height="1" fill="#444"/>
<rect x="1002" y="355.2" width="1.5" height="1" fill="#444"/>
<rect x="1002" y="359.7" width="1.5" height="1" fill="#444"/>
<rect x="1001" y="364.2" width="2.5" height="1" fill="#444"/>
<rect x="1002" y="368.7" width="1.5" height="1" fill="#444"/>
<rect x="1002" y="373.2" width="1.5" height="1" fill="#444"/>
<rect x="1002" y="377.7" width="1.5" height="1" fill="#444"/>
<rect x="1002" y="382.3" width="1.5" height="1" fill="#444"/>
<rect x="1001" y="386.8" width="2.5" height="1" fill="#444"/>
<rect x="1002" y="391.3" width="1.5" height="1" fill="#444"/>
<rect x="1002" y="395.8" width="1.5" height="1" fill="#444"/>
<rect x="1002" y="400.3" width="1.5" height="1" fill="#444"/>
<rect x="1002" y="404.8" width="1.5" height="1" fill="#444"/>
<rect x="1001" y="409.3" width="2.5" height="1" fill="#444"/>
<rect x="1002" y="413.8" width="1.5" height="1" fill="#444"/>
<rect x="1002" y="418.3" width="1.5" height="1" fill="#444"/>
<rect x="1002" y="422.8" width="1.5" height="1" fill="#444"/>
<rect x="1002" y="427.3" width="1.5" height="1" fill="#444"/>
<rect x="1001" y="431.8" width="2.5" height="1" fill="#444"/>
<rect x="1002" y="436.3" width="1.5" height="1" fill="#444"/>
<rect x="1002" y="440.8" width="1.5" height="1" fill="#444"/>
<rect x="1002" y="445.3" width="1.5" height="1" fill="#444"/>
<rect x="1002" y="449.8" width="1.5" height="1" fill="#444"/>
<rect x="1001" y="454.4" width="2.5" height="1" fill="#444"/>
<text x="1006" y="7.1" class="ax" textLength="15.6" lengthAdjust="spacingAndGlyphs">3.500</text>
<text x="1006" y="29.6" class="ax" textLength="15.6" lengthAdjust="spacingAndGlyphs">3.400</text>
<text x="1006" y="52.2" class="ax" textLength="15.6" lengthAdjust="spacingAndGlyphs">3.300</text>
<text x="1006" y="74.7" class="ax" textLength="15.6" lengthAdjust="spacingAndGlyphs">3.200</text>
<text x="1006" y="97.2" class="ax" textLength="15.6" lengthAdjust="spacingAndGlyphs">3.100</text>
<text x="1006" y="119.8" class="ax" textLength="15.6" lengthAdjust="spacingAndGlyphs">3.000</text>
<text x="1006" y="142.3" class="ax" textLength="15.6" lengthAdjust="spacingAndGlyphs">2.900</text>
<text x="1006" y="164.8" class="ax" textLength="15.6" lengthAdjust="spacingAndGlyphs">2.800</text>
<text x="1006" y="187.3" class="ax" textLength="15.6" lengthAdjust="spacingAndGlyphs">2.700</text>
<text x="1006" y="209.9" class="ax" textLength="15.6" lengthAdjust="spacingAndGlyphs">2.600</text>
<text x="1006" y="232.4" class="ax" textLength="15.6" lengthAdjust="spacingAndGlyphs">2.500</text>
<text x="1006" y="254.9" class="ax" textLength="15.6" lengthAdjust="spacingAndGlyphs">2.400</text>
<text x="1006" y="277.5" class="ax" textLength="15.6" lengthAdjust="spacingAndGlyphs">2.300</text>
<text x="1006" y="300" class="ax" textLength="15.6" lengthAdjust="spacingAndGlyphs">2.200</text>
<text x="1006" y="322.5" class="ax" textLength="15.6" lengthAdjust="spacingAndGlyphs">2.100</text>
<text x="1006" y="345.1" class="ax" textLength="15.6" lengthAdjust="spacingAndGlyphs">2.000</text>
<text x="1006" y="367.6" class="ax" textLength="15.6" lengthAdjust="spacingAndGlyphs">1.900</text>
<text x="1006" y="390.1" class="ax" textLength="15.6" lengthAdjust="spacingAndGlyphs">1.800</text>
<text x="1006" y="412.6" class="ax" textLength="15.6" lengthAdjust="spacingAndGlyphs">1.700</text>
<text x="1006" y="435.2" class="ax" textLength="15.6" lengthAdjust="spacingAndGlyphs">1.600</text>
<text x="1006" y="457.7" class="ax" textLength="15.6" lengthAdjust="spacingAndGlyphs">1.500</text>
<path d="M1001.3,70.9 L1005,67.6 L1022.5,67.6 L1022.5,74.2 L1005,74.2 Z" fill="#cbe6ec" stroke="#8a9ea4" stroke-width="0.7"/><text x="1006" y="73.2" class="ax" style="fill:#345" textLength="15.6" lengthAdjust="spacingAndGlyphs">3.203</text>
<path d="M1001.3,75 L1005,71.7 L1022.5,71.7 L1022.5,78.3 L1005,78.3 Z" fill="#fff" stroke="#555" stroke-width="0.7"/><text x="1006" y="77.3" class="ax" style="fill:#222" textLength="15.6" lengthAdjust="spacingAndGlyphs">3.185</text>
<path d="M1001.3,82.8 L1005,79.6 L1022.5,79.6 L1022.5,86 L1005,86 Z" fill="#f6c4c4" stroke="#d8a0a0" stroke-width="0.7"/><text x="1006" y="85.1" class="ax" style="fill:#222" textLength="15.6" lengthAdjust="spacingAndGlyphs">3.154</text>
<path d="M1001.3,281.4 L1005,278.2 L1022.5,278.2 L1022.5,284.6 L1005,284.6 Z" fill="#fff" stroke="#555" stroke-width="0.7"/><text x="1006" y="283.7" class="ax" style="fill:#222" textLength="15.6" lengthAdjust="spacingAndGlyphs">2.272</text>
<rect x="46" y="467" width="1" height="3" fill="#666"/>
<text x="46.5" y="476.5" class="dt" textLength="26.8" lengthAdjust="spacingAndGlyphs">Apr-2019</text>
<rect x="90" y="467" width="1" height="3" fill="#666"/>
<text x="90.5" y="476.5" class="dt" textLength="28.9" lengthAdjust="spacingAndGlyphs">May-2019</text>
<rect x="140" y="467" width="1" height="3" fill="#666"/>
<text x="140.5" y="476.5" class="dt" textLength="27.1" lengthAdjust="spacingAndGlyphs">Jun-2019</text>
<rect x="182" y="467" width="1" height="3" fill="#666"/>
<text x="182.5" y="476.5" class="dt" textLength="25" lengthAdjust="spacingAndGlyphs">Jul-2019</text>
<rect x="232" y="467" width="1" height="3" fill="#666"/>
<text x="232.5" y="476.5" class="dt" textLength="28.2" lengthAdjust="spacingAndGlyphs">Aug-2019</text>
<rect x="279" y="467" width="1" height="3" fill="#666"/>
<text x="279.5" y="476.5" class="dt" textLength="28.2" lengthAdjust="spacingAndGlyphs">Sep-2019</text>
<rect x="323" y="467" width="1" height="3" fill="#666"/>
<text x="323.5" y="476.5" class="dt" textLength="26.8" lengthAdjust="spacingAndGlyphs">Oct-2019</text>
<rect x="372" y="467" width="1" height="3" fill="#666"/>
<text x="372.5" y="476.5" class="dt" textLength="28.2" lengthAdjust="spacingAndGlyphs">Nov-2019</text>
<rect x="417" y="467" width="1" height="3" fill="#666"/>
<text x="417.5" y="476.5" class="dt" textLength="28.2" lengthAdjust="spacingAndGlyphs">Dec-2019</text>
<rect x="462" y="467" width="1" height="3" fill="#666"/>
<text x="462.5" y="476.5" class="dt" textLength="27.1" lengthAdjust="spacingAndGlyphs">Jan-2020</text>
<rect x="509" y="467" width="1" height="3" fill="#666"/>
<text x="509.5" y="476.5" class="dt" textLength="27.9" lengthAdjust="spacingAndGlyphs">Feb-2020</text>
<rect x="552" y="467" width="1" height="3" fill="#666"/>
<text x="552.5" y="476.5" class="dt" textLength="27.9" lengthAdjust="spacingAndGlyphs">Mar-2020</text>
<rect x="598" y="467" width="1" height="3" fill="#666"/>
<text x="598.5" y="476.5" class="dt" textLength="26.8" lengthAdjust="spacingAndGlyphs">Apr-2020</text>
<rect x="644" y="467" width="1" height="3" fill="#666"/>
<text x="644.5" y="476.5" class="dt" textLength="28.9" lengthAdjust="spacingAndGlyphs">May-2020</text>
<rect x="689" y="467" width="1" height="3" fill="#666"/>
<text x="689.5" y="476.5" class="dt" textLength="27.1" lengthAdjust="spacingAndGlyphs">Jun-2020</text>
<rect x="735" y="467" width="1" height="3" fill="#666"/>
<text x="735.5" y="476.5" class="dt" textLength="25" lengthAdjust="spacingAndGlyphs">Jul-2020</text>
<rect x="785" y="467" width="1" height="3" fill="#666"/>
<text x="785.5" y="476.5" class="dt" textLength="28.2" lengthAdjust="spacingAndGlyphs">Aug-2020</text>
<rect x="830" y="467" width="1" height="3" fill="#666"/>
<text x="830.5" y="476.5" class="dt" textLength="28.2" lengthAdjust="spacingAndGlyphs">Sep-2020</text>
<rect x="876" y="467" width="1" height="3" fill="#666"/>
<text x="876.5" y="476.5" class="dt" textLength="26.8" lengthAdjust="spacingAndGlyphs">Oct-2020</text>
<rect x="923" y="467" width="1" height="3" fill="#666"/>
<text x="923.5" y="476.5" class="dt" textLength="28.2" lengthAdjust="spacingAndGlyphs">Nov-2020</text>
<rect x="968" y="467" width="1" height="3" fill="#666"/>
<rect x="0" y="0" width="1024" height="1" fill="#6a6a6a"/>
<rect x="0" y="478" width="1024" height="1" fill="#6a6a6a"/>
<rect x="0" y="0" width="1" height="479" fill="#555"/>
<line x1="1.5" y1="1" x2="1.5" y2="470" stroke="#777" stroke-width="1" stroke-dasharray="3,1"/>
<rect x="1023" y="0" width="1" height="479" fill="#6a6a6a"/>
<text x="4" y="9" class="tt" textLength="52.5" lengthAdjust="spacingAndGlyphs">NTGUSD - 1 day</text>
<text x="5" y="18" class="bb">BB(20,20,2.0,2.0)</text>
<text x="959.5" y="34.3" class="fx">FxPro</text>
<text x="959.5" y="42.7" class="fs">Trade Like a Pro</text>
</svg></body></html>
